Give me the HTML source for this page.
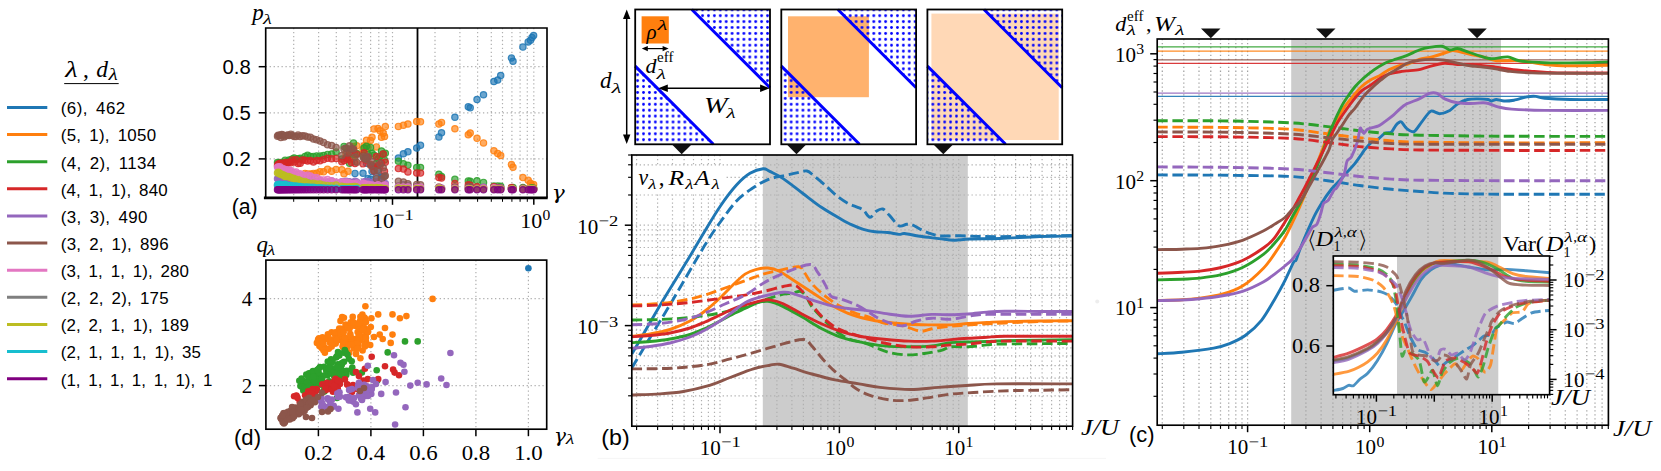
<!DOCTYPE html>
<html><head><meta charset="utf-8"><title>figure</title>
<style>html,body{margin:0;padding:0;background:#fff}svg{display:block}</style></head>
<body>
<svg width="1661" height="471" viewBox="0 0 1661 471">
<text x="65.2" y="76.7" font-family="'Liberation Serif','DejaVu Serif',serif" font-size="23.5" font-style="italic" textLength="12.5" lengthAdjust="spacingAndGlyphs">λ</text>
<text x="83" y="76.7" font-family="'Liberation Serif','DejaVu Serif',serif" font-size="23.5">,</text>
<text x="96.3" y="76.7" font-family="'Liberation Serif','DejaVu Serif',serif" font-size="23.5" font-style="italic">d</text>
<text x="108.5" y="80.3" font-family="'Liberation Serif','DejaVu Serif',serif" font-size="16.5" font-style="italic" textLength="9.3" lengthAdjust="spacingAndGlyphs">λ</text>
<line x1="64.2" y1="83.6" x2="118.7" y2="83.6" stroke="#000" stroke-width="1.0"/>
<line x1="7" y1="107.4" x2="47.3" y2="107.4" stroke="#1f77b4" stroke-width="3.0"/>
<text x="60.8" y="114.2" font-family="'Liberation Sans','DejaVu Sans',sans-serif" font-size="16.9" word-spacing="3" textLength="64.4" lengthAdjust="spacing">(6), 462</text>
<line x1="7" y1="134.5" x2="47.3" y2="134.5" stroke="#ff7f0e" stroke-width="3.0"/>
<text x="60.8" y="141.3" font-family="'Liberation Sans','DejaVu Sans',sans-serif" font-size="16.9" word-spacing="3" textLength="95.3" lengthAdjust="spacing">(5, 1), 1050</text>
<line x1="7" y1="161.7" x2="47.3" y2="161.7" stroke="#2ca02c" stroke-width="3.0"/>
<text x="60.8" y="168.5" font-family="'Liberation Sans','DejaVu Sans',sans-serif" font-size="16.9" word-spacing="3" textLength="95.3" lengthAdjust="spacing">(4, 2), 1134</text>
<line x1="7" y1="188.8" x2="47.3" y2="188.8" stroke="#d62728" stroke-width="3.0"/>
<text x="60.8" y="195.6" font-family="'Liberation Sans','DejaVu Sans',sans-serif" font-size="16.9" word-spacing="3" textLength="106.8" lengthAdjust="spacing">(4, 1, 1), 840</text>
<line x1="7" y1="215.9" x2="47.3" y2="215.9" stroke="#9467bd" stroke-width="3.0"/>
<text x="60.8" y="222.7" font-family="'Liberation Sans','DejaVu Sans',sans-serif" font-size="16.9" word-spacing="3" textLength="86.6" lengthAdjust="spacing">(3, 3), 490</text>
<line x1="7" y1="243.1" x2="47.3" y2="243.1" stroke="#8c564b" stroke-width="3.0"/>
<text x="60.8" y="249.9" font-family="'Liberation Sans','DejaVu Sans',sans-serif" font-size="16.9" word-spacing="3" textLength="107.8" lengthAdjust="spacing">(3, 2, 1), 896</text>
<line x1="7" y1="270.2" x2="47.3" y2="270.2" stroke="#e377c2" stroke-width="3.0"/>
<text x="60.8" y="277" font-family="'Liberation Sans','DejaVu Sans',sans-serif" font-size="16.9" word-spacing="3" textLength="128.2" lengthAdjust="spacing">(3, 1, 1, 1), 280</text>
<line x1="7" y1="297.3" x2="47.3" y2="297.3" stroke="#7f7f7f" stroke-width="3.0"/>
<text x="60.8" y="304.1" font-family="'Liberation Sans','DejaVu Sans',sans-serif" font-size="16.9" word-spacing="3" textLength="107.8" lengthAdjust="spacing">(2, 2, 2), 175</text>
<line x1="7" y1="324.4" x2="47.3" y2="324.4" stroke="#bcbd22" stroke-width="3.0"/>
<text x="60.8" y="331.2" font-family="'Liberation Sans','DejaVu Sans',sans-serif" font-size="16.9" word-spacing="3" textLength="128.2" lengthAdjust="spacing">(2, 2, 1, 1), 189</text>
<line x1="7" y1="351.6" x2="47.3" y2="351.6" stroke="#17becf" stroke-width="3.0"/>
<text x="60.8" y="358.4" font-family="'Liberation Sans','DejaVu Sans',sans-serif" font-size="16.9" word-spacing="3" textLength="140.1" lengthAdjust="spacing">(2, 1, 1, 1, 1), 35</text>
<line x1="7" y1="378.7" x2="47.3" y2="378.7" stroke="#800080" stroke-width="3.0"/>
<text x="60.8" y="385.5" font-family="'Liberation Sans','DejaVu Sans',sans-serif" font-size="16.9" word-spacing="3" textLength="151.5" lengthAdjust="spacing">(1, 1, 1, 1, 1, 1), 1</text>
<rect x="265.7" y="28" width="281.3" height="169.8" fill="#fff" stroke="none" stroke-width="1"/>
<path d="M293.7 28V197.8M318.6 28V197.8M336.3 28V197.8M350 28V197.8M361.2 28V197.8M370.6 28V197.8M378.8 28V197.8M386 28V197.8M392.5 28V197.8M435 28V197.8M459.9 28V197.8M477.6 28V197.8M491.3 28V197.8M502.5 28V197.8M511.9 28V197.8M520.1 28V197.8M527.3 28V197.8M533.8 28V197.8M265.7 158.9H547M265.7 112.8H547M265.7 66.7H547" fill="none" stroke="#b0b0b0" stroke-width="1.2" stroke-dasharray="1.3 2.65"/>
<line x1="417.5" y1="28" x2="417.5" y2="197.8" stroke="#000" stroke-width="1.8"/>
<g fill="#1f77b4" fill-opacity="0.66" stroke="#1f77b4" stroke-opacity="0.85" stroke-width="1.2"><circle cx="353.5" cy="184.5" r="3.15"/><circle cx="355" cy="173.4" r="3.15"/><circle cx="356.7" cy="189.1" r="3.15"/><circle cx="363" cy="173.2" r="3.15"/><circle cx="364.1" cy="184.4" r="3.15"/><circle cx="365.5" cy="183.7" r="3.15"/><circle cx="366.5" cy="163.3" r="3.15"/><circle cx="368" cy="178.6" r="3.15"/><circle cx="370.5" cy="179.2" r="3.15"/><circle cx="372" cy="171.4" r="3.15"/><circle cx="374" cy="166.7" r="3.15"/><circle cx="376.4" cy="176.2" r="3.15"/><circle cx="378" cy="169.7" r="3.15"/><circle cx="380" cy="183.2" r="3.15"/><circle cx="381.5" cy="176.8" r="3.15"/><circle cx="383.2" cy="176.7" r="3.15"/><circle cx="384.5" cy="184.3" r="3.15"/><circle cx="385.3" cy="185.5" r="3.15"/><circle cx="398.4" cy="158.1" r="3.15"/><circle cx="403.4" cy="153.8" r="3.15"/><circle cx="407.9" cy="151.7" r="3.15"/><circle cx="416.7" cy="148" r="3.15"/><circle cx="420.5" cy="145.3" r="3.15"/><circle cx="438.9" cy="136.9" r="3.15"/><circle cx="441.5" cy="132.8" r="3.15"/><circle cx="454.9" cy="117.2" r="3.15"/><circle cx="468.3" cy="106.8" r="3.15"/><circle cx="470.2" cy="107.7" r="3.15"/><circle cx="477" cy="99.5" r="3.15"/><circle cx="483.5" cy="94.8" r="3.15"/><circle cx="493.9" cy="81.5" r="3.15"/><circle cx="497.7" cy="80" r="3.15"/><circle cx="500.7" cy="75.5" r="3.15"/><circle cx="511.4" cy="58.1" r="3.15"/><circle cx="513" cy="61.2" r="3.15"/><circle cx="522.9" cy="47.1" r="3.15"/><circle cx="528.2" cy="41.9" r="3.15"/><circle cx="530.5" cy="40.3" r="3.15"/><circle cx="532" cy="37.5" r="3.15"/><circle cx="533.6" cy="35.6" r="3.15"/></g>
<g fill="#ff7f0e" fill-opacity="0.66" stroke="#ff7f0e" stroke-opacity="0.85" stroke-width="1.2"><circle cx="305" cy="173.4" r="3.15"/><circle cx="307.6" cy="174.1" r="3.15"/><circle cx="310.4" cy="173.9" r="3.15"/><circle cx="313.4" cy="173.4" r="3.15"/><circle cx="316.6" cy="173.2" r="3.15"/><circle cx="320" cy="171.7" r="3.15"/><circle cx="323.6" cy="171.7" r="3.15"/><circle cx="327.5" cy="169.3" r="3.15"/><circle cx="331.6" cy="171.3" r="3.15"/><circle cx="336.1" cy="169.4" r="3.15"/><circle cx="341.8" cy="169.7" r="3.15"/><circle cx="344" cy="173.7" r="3.15"/><circle cx="346" cy="153.7" r="3.15"/><circle cx="348" cy="171.3" r="3.15"/><circle cx="349.5" cy="159.8" r="3.15"/><circle cx="351.5" cy="158.7" r="3.15"/><circle cx="353.5" cy="146.4" r="3.15"/><circle cx="355" cy="161.5" r="3.15"/><circle cx="356.7" cy="145.8" r="3.15"/><circle cx="363" cy="149.2" r="3.15"/><circle cx="364.1" cy="145.7" r="3.15"/><circle cx="365.5" cy="147" r="3.15"/><circle cx="366.5" cy="140.2" r="3.15"/><circle cx="368" cy="147.3" r="3.15"/><circle cx="370.5" cy="140.5" r="3.15"/><circle cx="372" cy="137.3" r="3.15"/><circle cx="374" cy="128.9" r="3.15"/><circle cx="376.4" cy="146.9" r="3.15"/><circle cx="378" cy="128.5" r="3.15"/><circle cx="380" cy="130.8" r="3.15"/><circle cx="381.5" cy="137.2" r="3.15"/><circle cx="383.2" cy="133.2" r="3.15"/><circle cx="384.5" cy="136.6" r="3.15"/><circle cx="385.3" cy="126.6" r="3.15"/><circle cx="398.4" cy="126.4" r="3.15"/><circle cx="403.4" cy="125.3" r="3.15"/><circle cx="407.9" cy="124" r="3.15"/><circle cx="416.7" cy="121.5" r="3.15"/><circle cx="420.5" cy="121.7" r="3.15"/><circle cx="438.9" cy="124.1" r="3.15"/><circle cx="441.5" cy="122.4" r="3.15"/><circle cx="454.9" cy="128.8" r="3.15"/><circle cx="468.3" cy="134.8" r="3.15"/><circle cx="470.2" cy="133" r="3.15"/><circle cx="477" cy="138.3" r="3.15"/><circle cx="483.5" cy="142.9" r="3.15"/><circle cx="493.9" cy="150.8" r="3.15"/><circle cx="497.7" cy="153.5" r="3.15"/><circle cx="500.7" cy="155.5" r="3.15"/><circle cx="511.4" cy="164.6" r="3.15"/><circle cx="513" cy="167.2" r="3.15"/><circle cx="522.9" cy="177.6" r="3.15"/><circle cx="528.2" cy="180.3" r="3.15"/><circle cx="530.5" cy="183.3" r="3.15"/><circle cx="532" cy="185.7" r="3.15"/><circle cx="533.6" cy="184.6" r="3.15"/></g>
<g fill="#2ca02c" fill-opacity="0.66" stroke="#2ca02c" stroke-opacity="0.85" stroke-width="1.2"><circle cx="277.5" cy="162.5" r="3.15"/><circle cx="278.2" cy="164" r="3.15"/><circle cx="279.1" cy="164.5" r="3.15"/><circle cx="279.9" cy="162.5" r="3.15"/><circle cx="280.8" cy="163.7" r="3.15"/><circle cx="281.8" cy="163.7" r="3.15"/><circle cx="282.8" cy="163.8" r="3.15"/><circle cx="284" cy="162.5" r="3.15"/><circle cx="285.1" cy="160.3" r="3.15"/><circle cx="286.4" cy="161.9" r="3.15"/><circle cx="287.8" cy="162.8" r="3.15"/><circle cx="289.2" cy="159.9" r="3.15"/><circle cx="290.8" cy="160.3" r="3.15"/><circle cx="292.4" cy="158.9" r="3.15"/><circle cx="294.2" cy="158.1" r="3.15"/><circle cx="296.1" cy="159.3" r="3.15"/><circle cx="298.1" cy="158.8" r="3.15"/><circle cx="300.2" cy="158.2" r="3.15"/><circle cx="302.5" cy="159.2" r="3.15"/><circle cx="305" cy="156.6" r="3.15"/><circle cx="307.6" cy="155.3" r="3.15"/><circle cx="310.4" cy="156.4" r="3.15"/><circle cx="313.4" cy="156.4" r="3.15"/><circle cx="316.6" cy="155.9" r="3.15"/><circle cx="320" cy="156.1" r="3.15"/><circle cx="323.6" cy="155.5" r="3.15"/><circle cx="327.5" cy="154.4" r="3.15"/><circle cx="331.6" cy="154" r="3.15"/><circle cx="336.1" cy="151.9" r="3.15"/><circle cx="341.8" cy="159" r="3.15"/><circle cx="344" cy="146.4" r="3.15"/><circle cx="346" cy="148.1" r="3.15"/><circle cx="348" cy="155.9" r="3.15"/><circle cx="349.5" cy="163.2" r="3.15"/><circle cx="351.5" cy="149.6" r="3.15"/><circle cx="353.5" cy="143.1" r="3.15"/><circle cx="355" cy="154.7" r="3.15"/><circle cx="356.7" cy="153.5" r="3.15"/><circle cx="363" cy="155.3" r="3.15"/><circle cx="364.1" cy="148" r="3.15"/><circle cx="365.5" cy="157.9" r="3.15"/><circle cx="366.5" cy="146.3" r="3.15"/><circle cx="368" cy="154.5" r="3.15"/><circle cx="370.5" cy="147.4" r="3.15"/><circle cx="372" cy="153.2" r="3.15"/><circle cx="374" cy="155.2" r="3.15"/><circle cx="376.4" cy="163.3" r="3.15"/><circle cx="378" cy="158.7" r="3.15"/><circle cx="380" cy="156.4" r="3.15"/><circle cx="381.5" cy="151" r="3.15"/><circle cx="383.2" cy="153.9" r="3.15"/><circle cx="384.5" cy="159.9" r="3.15"/><circle cx="385.3" cy="153.2" r="3.15"/><circle cx="398.4" cy="161.2" r="3.15"/><circle cx="403.4" cy="163.7" r="3.15"/><circle cx="407.9" cy="165.2" r="3.15"/><circle cx="416.7" cy="167.6" r="3.15"/><circle cx="420.5" cy="167.5" r="3.15"/><circle cx="438.9" cy="174.2" r="3.15"/><circle cx="441.5" cy="176.5" r="3.15"/><circle cx="454.9" cy="179.3" r="3.15"/><circle cx="468.3" cy="180.9" r="3.15"/><circle cx="470.2" cy="181.3" r="3.15"/><circle cx="477" cy="180.7" r="3.15"/><circle cx="483.5" cy="182.4" r="3.15"/><circle cx="493.9" cy="186.1" r="3.15"/><circle cx="497.7" cy="186.1" r="3.15"/><circle cx="500.7" cy="186.2" r="3.15"/><circle cx="511.4" cy="188" r="3.15"/><circle cx="513" cy="187.6" r="3.15"/><circle cx="522.9" cy="187.5" r="3.15"/><circle cx="528.2" cy="189.1" r="3.15"/><circle cx="530.5" cy="188.3" r="3.15"/><circle cx="532" cy="188" r="3.15"/><circle cx="533.6" cy="188.3" r="3.15"/></g>
<g fill="#d62728" fill-opacity="0.66" stroke="#d62728" stroke-opacity="0.85" stroke-width="1.2"><circle cx="277.5" cy="165.5" r="3.15"/><circle cx="278.2" cy="163.9" r="3.15"/><circle cx="279.1" cy="164.8" r="3.15"/><circle cx="279.9" cy="163.4" r="3.15"/><circle cx="280.8" cy="163.3" r="3.15"/><circle cx="281.8" cy="163.5" r="3.15"/><circle cx="282.8" cy="164.2" r="3.15"/><circle cx="284" cy="163.9" r="3.15"/><circle cx="285.1" cy="162.4" r="3.15"/><circle cx="286.4" cy="163.9" r="3.15"/><circle cx="287.8" cy="162.4" r="3.15"/><circle cx="289.2" cy="162.2" r="3.15"/><circle cx="290.8" cy="162.7" r="3.15"/><circle cx="292.4" cy="160.1" r="3.15"/><circle cx="294.2" cy="162" r="3.15"/><circle cx="296.1" cy="159.8" r="3.15"/><circle cx="298.1" cy="163.4" r="3.15"/><circle cx="300.2" cy="163.3" r="3.15"/><circle cx="302.5" cy="160.1" r="3.15"/><circle cx="305" cy="160.3" r="3.15"/><circle cx="307.6" cy="161" r="3.15"/><circle cx="310.4" cy="160.5" r="3.15"/><circle cx="313.4" cy="162" r="3.15"/><circle cx="316.6" cy="160.6" r="3.15"/><circle cx="320" cy="160.7" r="3.15"/><circle cx="323.6" cy="159.6" r="3.15"/><circle cx="327.5" cy="158.3" r="3.15"/><circle cx="331.6" cy="158.8" r="3.15"/><circle cx="336.1" cy="158.4" r="3.15"/><circle cx="341.8" cy="161.7" r="3.15"/><circle cx="344" cy="160.4" r="3.15"/><circle cx="346" cy="157.8" r="3.15"/><circle cx="348" cy="159.6" r="3.15"/><circle cx="349.5" cy="152.4" r="3.15"/><circle cx="351.5" cy="162.4" r="3.15"/><circle cx="353.5" cy="150" r="3.15"/><circle cx="355" cy="163.4" r="3.15"/><circle cx="356.7" cy="154.3" r="3.15"/><circle cx="363" cy="163.7" r="3.15"/><circle cx="364.1" cy="152.7" r="3.15"/><circle cx="365.5" cy="159.9" r="3.15"/><circle cx="366.5" cy="158.8" r="3.15"/><circle cx="368" cy="157.4" r="3.15"/><circle cx="370.5" cy="164.2" r="3.15"/><circle cx="372" cy="166.3" r="3.15"/><circle cx="374" cy="171.1" r="3.15"/><circle cx="376.4" cy="156.5" r="3.15"/><circle cx="378" cy="165.6" r="3.15"/><circle cx="380" cy="165.4" r="3.15"/><circle cx="381.5" cy="163" r="3.15"/><circle cx="383.2" cy="154" r="3.15"/><circle cx="384.5" cy="171.3" r="3.15"/><circle cx="385.3" cy="162.3" r="3.15"/><circle cx="398.4" cy="168.6" r="3.15"/><circle cx="403.4" cy="169.1" r="3.15"/><circle cx="407.9" cy="171.9" r="3.15"/><circle cx="416.7" cy="173" r="3.15"/><circle cx="420.5" cy="173.1" r="3.15"/><circle cx="438.9" cy="177.5" r="3.15"/><circle cx="441.5" cy="178.1" r="3.15"/><circle cx="454.9" cy="183.4" r="3.15"/><circle cx="468.3" cy="184.8" r="3.15"/><circle cx="470.2" cy="185.2" r="3.15"/><circle cx="477" cy="186.7" r="3.15"/><circle cx="483.5" cy="187.4" r="3.15"/><circle cx="493.9" cy="186.7" r="3.15"/><circle cx="497.7" cy="187.5" r="3.15"/><circle cx="500.7" cy="188" r="3.15"/><circle cx="511.4" cy="187.4" r="3.15"/><circle cx="513" cy="189.1" r="3.15"/><circle cx="522.9" cy="188.3" r="3.15"/><circle cx="528.2" cy="188.9" r="3.15"/><circle cx="530.5" cy="189.1" r="3.15"/><circle cx="532" cy="188.7" r="3.15"/><circle cx="533.6" cy="189" r="3.15"/></g>
<g fill="#9467bd" fill-opacity="0.66" stroke="#9467bd" stroke-opacity="0.85" stroke-width="1.2"><circle cx="277.5" cy="178.7" r="3.15"/><circle cx="278.2" cy="178.8" r="3.15"/><circle cx="279.1" cy="177.3" r="3.15"/><circle cx="279.9" cy="179.4" r="3.15"/><circle cx="280.8" cy="178.3" r="3.15"/><circle cx="281.8" cy="178.7" r="3.15"/><circle cx="282.8" cy="179.6" r="3.15"/><circle cx="284" cy="178.7" r="3.15"/><circle cx="285.1" cy="180.3" r="3.15"/><circle cx="286.4" cy="178.5" r="3.15"/><circle cx="287.8" cy="180.4" r="3.15"/><circle cx="289.2" cy="180.2" r="3.15"/><circle cx="290.8" cy="179.6" r="3.15"/><circle cx="292.4" cy="179.2" r="3.15"/><circle cx="294.2" cy="179.2" r="3.15"/><circle cx="296.1" cy="179.4" r="3.15"/><circle cx="298.1" cy="180.5" r="3.15"/><circle cx="300.2" cy="181.4" r="3.15"/><circle cx="302.5" cy="180" r="3.15"/><circle cx="305" cy="180.3" r="3.15"/><circle cx="307.6" cy="181.5" r="3.15"/><circle cx="310.4" cy="179.8" r="3.15"/><circle cx="313.4" cy="180.6" r="3.15"/><circle cx="316.6" cy="181.8" r="3.15"/><circle cx="320" cy="180.6" r="3.15"/><circle cx="323.6" cy="182.3" r="3.15"/><circle cx="327.5" cy="182" r="3.15"/><circle cx="331.6" cy="180.9" r="3.15"/><circle cx="336.1" cy="182.9" r="3.15"/><circle cx="341.8" cy="181.7" r="3.15"/><circle cx="344" cy="183" r="3.15"/><circle cx="346" cy="181.2" r="3.15"/><circle cx="348" cy="182.6" r="3.15"/><circle cx="349.5" cy="181.8" r="3.15"/><circle cx="351.5" cy="183.5" r="3.15"/><circle cx="353.5" cy="182.5" r="3.15"/><circle cx="355" cy="181.3" r="3.15"/><circle cx="356.7" cy="181.9" r="3.15"/><circle cx="363" cy="184.3" r="3.15"/><circle cx="364.1" cy="181.8" r="3.15"/><circle cx="365.5" cy="181.8" r="3.15"/><circle cx="366.5" cy="183.1" r="3.15"/><circle cx="368" cy="181.5" r="3.15"/><circle cx="370.5" cy="183.9" r="3.15"/><circle cx="372" cy="183" r="3.15"/><circle cx="374" cy="182" r="3.15"/><circle cx="376.4" cy="181.9" r="3.15"/><circle cx="378" cy="182" r="3.15"/><circle cx="380" cy="184.3" r="3.15"/><circle cx="381.5" cy="185" r="3.15"/><circle cx="383.2" cy="183.1" r="3.15"/><circle cx="384.5" cy="184.8" r="3.15"/><circle cx="385.3" cy="183.6" r="3.15"/><circle cx="398.4" cy="185.9" r="3.15"/><circle cx="403.4" cy="184.7" r="3.15"/><circle cx="407.9" cy="185.4" r="3.15"/><circle cx="416.7" cy="186.6" r="3.15"/><circle cx="420.5" cy="187.4" r="3.15"/><circle cx="438.9" cy="187.7" r="3.15"/><circle cx="441.5" cy="188" r="3.15"/><circle cx="454.9" cy="187.8" r="3.15"/><circle cx="468.3" cy="188.1" r="3.15"/><circle cx="470.2" cy="188" r="3.15"/><circle cx="477" cy="188.8" r="3.15"/><circle cx="483.5" cy="187.2" r="3.15"/><circle cx="493.9" cy="188.6" r="3.15"/><circle cx="497.7" cy="187.9" r="3.15"/><circle cx="500.7" cy="188" r="3.15"/><circle cx="511.4" cy="189.1" r="3.15"/><circle cx="513" cy="189.1" r="3.15"/><circle cx="522.9" cy="188.4" r="3.15"/><circle cx="528.2" cy="189.1" r="3.15"/><circle cx="530.5" cy="189.1" r="3.15"/><circle cx="532" cy="189.1" r="3.15"/><circle cx="533.6" cy="189.1" r="3.15"/></g>
<g fill="#8c564b" fill-opacity="0.66" stroke="#8c564b" stroke-opacity="0.85" stroke-width="1.2"><circle cx="277.5" cy="136.2" r="3.15"/><circle cx="278.2" cy="135.2" r="3.15"/><circle cx="279.1" cy="135.6" r="3.15"/><circle cx="279.9" cy="135.2" r="3.15"/><circle cx="280.8" cy="137.4" r="3.15"/><circle cx="281.8" cy="134.5" r="3.15"/><circle cx="282.8" cy="135" r="3.15"/><circle cx="284" cy="136.9" r="3.15"/><circle cx="285.1" cy="136.1" r="3.15"/><circle cx="286.4" cy="135.4" r="3.15"/><circle cx="287.8" cy="134.9" r="3.15"/><circle cx="289.2" cy="135.5" r="3.15"/><circle cx="290.8" cy="134.3" r="3.15"/><circle cx="292.4" cy="135.6" r="3.15"/><circle cx="294.2" cy="136.6" r="3.15"/><circle cx="296.1" cy="136.4" r="3.15"/><circle cx="298.1" cy="135.1" r="3.15"/><circle cx="300.2" cy="136.5" r="3.15"/><circle cx="302.5" cy="135.7" r="3.15"/><circle cx="305" cy="136.1" r="3.15"/><circle cx="307.6" cy="137.1" r="3.15"/><circle cx="310.4" cy="137.3" r="3.15"/><circle cx="313.4" cy="139.1" r="3.15"/><circle cx="316.6" cy="139.7" r="3.15"/><circle cx="320" cy="141" r="3.15"/><circle cx="323.6" cy="142.4" r="3.15"/><circle cx="327.5" cy="144.8" r="3.15"/><circle cx="331.6" cy="145.5" r="3.15"/><circle cx="336.1" cy="147.6" r="3.15"/><circle cx="341.8" cy="155.5" r="3.15"/><circle cx="344" cy="149.1" r="3.15"/><circle cx="346" cy="148.5" r="3.15"/><circle cx="348" cy="153" r="3.15"/><circle cx="349.5" cy="145.8" r="3.15"/><circle cx="351.5" cy="148.5" r="3.15"/><circle cx="353.5" cy="148.9" r="3.15"/><circle cx="355" cy="157.1" r="3.15"/><circle cx="356.7" cy="162.3" r="3.15"/><circle cx="363" cy="156.7" r="3.15"/><circle cx="364.1" cy="158.5" r="3.15"/><circle cx="365.5" cy="157.4" r="3.15"/><circle cx="366.5" cy="159.5" r="3.15"/><circle cx="368" cy="156.5" r="3.15"/><circle cx="370.5" cy="165.2" r="3.15"/><circle cx="372" cy="161.8" r="3.15"/><circle cx="374" cy="170.4" r="3.15"/><circle cx="376.4" cy="178.5" r="3.15"/><circle cx="378" cy="171" r="3.15"/><circle cx="380" cy="163.4" r="3.15"/><circle cx="381.5" cy="179" r="3.15"/><circle cx="383.2" cy="167.7" r="3.15"/><circle cx="384.5" cy="176.4" r="3.15"/><circle cx="385.3" cy="175.7" r="3.15"/><circle cx="398.4" cy="181.3" r="3.15"/><circle cx="403.4" cy="182" r="3.15"/><circle cx="407.9" cy="183.7" r="3.15"/><circle cx="416.7" cy="184.4" r="3.15"/><circle cx="420.5" cy="184.8" r="3.15"/><circle cx="438.9" cy="187.1" r="3.15"/><circle cx="441.5" cy="188.4" r="3.15"/><circle cx="454.9" cy="187" r="3.15"/><circle cx="468.3" cy="187" r="3.15"/><circle cx="470.2" cy="186.6" r="3.15"/><circle cx="477" cy="189.1" r="3.15"/><circle cx="483.5" cy="188.5" r="3.15"/><circle cx="493.9" cy="189.1" r="3.15"/><circle cx="497.7" cy="188.6" r="3.15"/><circle cx="500.7" cy="188.6" r="3.15"/><circle cx="511.4" cy="189.1" r="3.15"/><circle cx="513" cy="189.1" r="3.15"/><circle cx="522.9" cy="189.1" r="3.15"/><circle cx="528.2" cy="189" r="3.15"/><circle cx="530.5" cy="189.1" r="3.15"/><circle cx="532" cy="189.1" r="3.15"/><circle cx="533.6" cy="189.1" r="3.15"/></g>
<g fill="#e377c2" fill-opacity="0.66" stroke="#e377c2" stroke-opacity="0.85" stroke-width="1.2"><circle cx="277.5" cy="167.3" r="3.15"/><circle cx="278.2" cy="167" r="3.15"/><circle cx="279.1" cy="167.3" r="3.15"/><circle cx="279.9" cy="166.8" r="3.15"/><circle cx="280.8" cy="168.8" r="3.15"/><circle cx="281.8" cy="169.9" r="3.15"/><circle cx="282.8" cy="168.6" r="3.15"/><circle cx="284" cy="169.7" r="3.15"/><circle cx="285.1" cy="169.6" r="3.15"/><circle cx="286.4" cy="169.7" r="3.15"/><circle cx="287.8" cy="170.2" r="3.15"/><circle cx="289.2" cy="170.1" r="3.15"/><circle cx="290.8" cy="170.6" r="3.15"/><circle cx="292.4" cy="173" r="3.15"/><circle cx="294.2" cy="172.6" r="3.15"/><circle cx="296.1" cy="171.9" r="3.15"/><circle cx="298.1" cy="174" r="3.15"/><circle cx="300.2" cy="173.8" r="3.15"/><circle cx="302.5" cy="174.9" r="3.15"/><circle cx="305" cy="175.7" r="3.15"/><circle cx="307.6" cy="175.1" r="3.15"/><circle cx="310.4" cy="176.1" r="3.15"/><circle cx="313.4" cy="177.6" r="3.15"/><circle cx="316.6" cy="177.6" r="3.15"/><circle cx="320" cy="179.7" r="3.15"/><circle cx="323.6" cy="179.9" r="3.15"/><circle cx="327.5" cy="179.5" r="3.15"/><circle cx="331.6" cy="180.7" r="3.15"/><circle cx="336.1" cy="182.1" r="3.15"/><circle cx="341.8" cy="182" r="3.15"/><circle cx="344" cy="182.4" r="3.15"/><circle cx="346" cy="182.1" r="3.15"/><circle cx="348" cy="182.4" r="3.15"/><circle cx="349.5" cy="183.3" r="3.15"/><circle cx="351.5" cy="183.6" r="3.15"/><circle cx="353.5" cy="183.6" r="3.15"/><circle cx="355" cy="183.8" r="3.15"/><circle cx="356.7" cy="182.9" r="3.15"/><circle cx="363" cy="183.3" r="3.15"/><circle cx="364.1" cy="183.6" r="3.15"/><circle cx="365.5" cy="184.3" r="3.15"/><circle cx="366.5" cy="184.8" r="3.15"/><circle cx="368" cy="184.2" r="3.15"/><circle cx="370.5" cy="185.2" r="3.15"/><circle cx="372" cy="184.9" r="3.15"/><circle cx="374" cy="186.3" r="3.15"/><circle cx="376.4" cy="185.7" r="3.15"/><circle cx="378" cy="184.7" r="3.15"/><circle cx="380" cy="186.4" r="3.15"/><circle cx="381.5" cy="186.8" r="3.15"/><circle cx="383.2" cy="186.1" r="3.15"/><circle cx="384.5" cy="185.1" r="3.15"/><circle cx="385.3" cy="185.3" r="3.15"/><circle cx="398.4" cy="187" r="3.15"/><circle cx="403.4" cy="187.1" r="3.15"/><circle cx="407.9" cy="187" r="3.15"/><circle cx="416.7" cy="187.6" r="3.15"/><circle cx="420.5" cy="187.2" r="3.15"/><circle cx="438.9" cy="187.8" r="3.15"/><circle cx="441.5" cy="188.4" r="3.15"/><circle cx="454.9" cy="188.2" r="3.15"/><circle cx="468.3" cy="188.4" r="3.15"/><circle cx="470.2" cy="188.7" r="3.15"/><circle cx="477" cy="189" r="3.15"/><circle cx="483.5" cy="188.1" r="3.15"/><circle cx="493.9" cy="187.8" r="3.15"/><circle cx="497.7" cy="189" r="3.15"/><circle cx="500.7" cy="189.1" r="3.15"/><circle cx="511.4" cy="188.9" r="3.15"/><circle cx="513" cy="189.1" r="3.15"/><circle cx="522.9" cy="189.1" r="3.15"/><circle cx="528.2" cy="188.8" r="3.15"/><circle cx="530.5" cy="189.1" r="3.15"/><circle cx="532" cy="189.1" r="3.15"/><circle cx="533.6" cy="189.1" r="3.15"/></g>
<g fill="#7f7f7f" fill-opacity="0.66" stroke="#7f7f7f" stroke-opacity="0.85" stroke-width="1.2"><circle cx="277.5" cy="185.4" r="3.15"/><circle cx="278.2" cy="185.3" r="3.15"/><circle cx="279.1" cy="185.1" r="3.15"/><circle cx="279.9" cy="184.9" r="3.15"/><circle cx="280.8" cy="185.2" r="3.15"/><circle cx="281.8" cy="185.5" r="3.15"/><circle cx="282.8" cy="185.9" r="3.15"/><circle cx="284" cy="185.7" r="3.15"/><circle cx="285.1" cy="186" r="3.15"/><circle cx="286.4" cy="185.9" r="3.15"/><circle cx="287.8" cy="185.6" r="3.15"/><circle cx="289.2" cy="186" r="3.15"/><circle cx="290.8" cy="186.3" r="3.15"/><circle cx="292.4" cy="186.6" r="3.15"/><circle cx="294.2" cy="186.5" r="3.15"/><circle cx="296.1" cy="186.6" r="3.15"/><circle cx="298.1" cy="187.1" r="3.15"/><circle cx="300.2" cy="187.1" r="3.15"/><circle cx="302.5" cy="186.8" r="3.15"/><circle cx="305" cy="187.7" r="3.15"/><circle cx="307.6" cy="187.5" r="3.15"/><circle cx="310.4" cy="187.8" r="3.15"/><circle cx="313.4" cy="187.1" r="3.15"/><circle cx="316.6" cy="187.6" r="3.15"/><circle cx="320" cy="187.8" r="3.15"/><circle cx="323.6" cy="188" r="3.15"/><circle cx="327.5" cy="188.3" r="3.15"/><circle cx="331.6" cy="188.4" r="3.15"/><circle cx="336.1" cy="189.1" r="3.15"/><circle cx="341.8" cy="188.7" r="3.15"/><circle cx="344" cy="188.6" r="3.15"/></g>
<g fill="#bcbd22" fill-opacity="0.66" stroke="#bcbd22" stroke-opacity="0.85" stroke-width="1.2"><circle cx="277.5" cy="172.9" r="3.15"/><circle cx="278.2" cy="172.2" r="3.15"/><circle cx="279.1" cy="172.7" r="3.15"/><circle cx="279.9" cy="174.1" r="3.15"/><circle cx="280.8" cy="174.1" r="3.15"/><circle cx="281.8" cy="174.5" r="3.15"/><circle cx="282.8" cy="175.1" r="3.15"/><circle cx="284" cy="175.2" r="3.15"/><circle cx="285.1" cy="176.5" r="3.15"/><circle cx="286.4" cy="176.4" r="3.15"/><circle cx="287.8" cy="176.6" r="3.15"/><circle cx="289.2" cy="176.8" r="3.15"/><circle cx="290.8" cy="177.6" r="3.15"/><circle cx="292.4" cy="178.2" r="3.15"/><circle cx="294.2" cy="178.4" r="3.15"/><circle cx="296.1" cy="180.2" r="3.15"/><circle cx="298.1" cy="179.4" r="3.15"/><circle cx="300.2" cy="180.7" r="3.15"/><circle cx="302.5" cy="181.5" r="3.15"/><circle cx="305" cy="181.6" r="3.15"/><circle cx="307.6" cy="182.8" r="3.15"/><circle cx="310.4" cy="183.4" r="3.15"/><circle cx="313.4" cy="183.2" r="3.15"/><circle cx="316.6" cy="184" r="3.15"/><circle cx="320" cy="184" r="3.15"/><circle cx="323.6" cy="185.1" r="3.15"/><circle cx="327.5" cy="185.6" r="3.15"/><circle cx="331.6" cy="185.8" r="3.15"/><circle cx="336.1" cy="185" r="3.15"/><circle cx="341.8" cy="186.3" r="3.15"/><circle cx="344" cy="186.8" r="3.15"/><circle cx="346" cy="187.1" r="3.15"/><circle cx="348" cy="187.3" r="3.15"/><circle cx="349.5" cy="186.9" r="3.15"/><circle cx="351.5" cy="186.7" r="3.15"/><circle cx="353.5" cy="186.4" r="3.15"/><circle cx="355" cy="186.5" r="3.15"/><circle cx="356.7" cy="187" r="3.15"/><circle cx="363" cy="187.7" r="3.15"/><circle cx="364.1" cy="187.8" r="3.15"/><circle cx="365.5" cy="188.5" r="3.15"/><circle cx="366.5" cy="188" r="3.15"/><circle cx="368" cy="187.4" r="3.15"/><circle cx="370.5" cy="187.8" r="3.15"/><circle cx="372" cy="187.6" r="3.15"/><circle cx="374" cy="188.4" r="3.15"/><circle cx="376.4" cy="187.5" r="3.15"/><circle cx="378" cy="187.8" r="3.15"/><circle cx="380" cy="188" r="3.15"/><circle cx="381.5" cy="187.9" r="3.15"/><circle cx="383.2" cy="189.1" r="3.15"/><circle cx="384.5" cy="188.5" r="3.15"/><circle cx="385.3" cy="188.7" r="3.15"/><circle cx="398.4" cy="187.9" r="3.15"/><circle cx="403.4" cy="188.6" r="3.15"/><circle cx="407.9" cy="188.8" r="3.15"/><circle cx="416.7" cy="188.4" r="3.15"/><circle cx="420.5" cy="189.1" r="3.15"/><circle cx="438.9" cy="188.3" r="3.15"/><circle cx="441.5" cy="189.1" r="3.15"/><circle cx="454.9" cy="189" r="3.15"/><circle cx="468.3" cy="189.1" r="3.15"/><circle cx="470.2" cy="188.8" r="3.15"/><circle cx="477" cy="189.1" r="3.15"/><circle cx="483.5" cy="189" r="3.15"/><circle cx="493.9" cy="189.1" r="3.15"/><circle cx="497.7" cy="189.1" r="3.15"/><circle cx="500.7" cy="189.1" r="3.15"/><circle cx="511.4" cy="189.1" r="3.15"/><circle cx="513" cy="189.1" r="3.15"/><circle cx="522.9" cy="189.1" r="3.15"/><circle cx="528.2" cy="189.1" r="3.15"/><circle cx="530.5" cy="189.1" r="3.15"/><circle cx="532" cy="189.1" r="3.15"/><circle cx="533.6" cy="189.1" r="3.15"/></g>
<g fill="#17becf" fill-opacity="0.66" stroke="#17becf" stroke-opacity="0.85" stroke-width="1.2"><circle cx="277.5" cy="184.7" r="3.15"/><circle cx="278.2" cy="184.8" r="3.15"/><circle cx="279.1" cy="184.3" r="3.15"/><circle cx="279.9" cy="184.7" r="3.15"/><circle cx="280.8" cy="184.4" r="3.15"/><circle cx="281.8" cy="184.8" r="3.15"/><circle cx="282.8" cy="185.2" r="3.15"/><circle cx="284" cy="184.7" r="3.15"/><circle cx="285.1" cy="184.5" r="3.15"/><circle cx="286.4" cy="185.3" r="3.15"/><circle cx="287.8" cy="185.7" r="3.15"/><circle cx="289.2" cy="185.8" r="3.15"/><circle cx="290.8" cy="185.4" r="3.15"/><circle cx="292.4" cy="186" r="3.15"/><circle cx="294.2" cy="186.2" r="3.15"/><circle cx="296.1" cy="186" r="3.15"/><circle cx="298.1" cy="186.4" r="3.15"/><circle cx="300.2" cy="186.6" r="3.15"/><circle cx="302.5" cy="186.9" r="3.15"/><circle cx="305" cy="187.1" r="3.15"/><circle cx="307.6" cy="187" r="3.15"/><circle cx="310.4" cy="187.2" r="3.15"/><circle cx="313.4" cy="187.3" r="3.15"/><circle cx="316.6" cy="187.8" r="3.15"/><circle cx="320" cy="187.7" r="3.15"/><circle cx="323.6" cy="187.9" r="3.15"/><circle cx="327.5" cy="188.3" r="3.15"/><circle cx="331.6" cy="188.3" r="3.15"/><circle cx="336.1" cy="188.3" r="3.15"/><circle cx="341.8" cy="188.7" r="3.15"/><circle cx="344" cy="188.8" r="3.15"/><circle cx="346" cy="189.1" r="3.15"/><circle cx="348" cy="188.8" r="3.15"/><circle cx="349.5" cy="189" r="3.15"/><circle cx="351.5" cy="189.1" r="3.15"/><circle cx="353.5" cy="189.1" r="3.15"/><circle cx="355" cy="188.9" r="3.15"/><circle cx="356.7" cy="188.4" r="3.15"/></g>
<g fill="#800080" fill-opacity="0.66" stroke="#800080" stroke-opacity="0.85" stroke-width="1.2"><circle cx="277.5" cy="189.7" r="3.15"/><circle cx="278.2" cy="189.7" r="3.15"/><circle cx="279.1" cy="189.7" r="3.15"/><circle cx="279.9" cy="189.7" r="3.15"/><circle cx="280.8" cy="189.7" r="3.15"/><circle cx="281.8" cy="189.7" r="3.15"/><circle cx="282.8" cy="189.7" r="3.15"/><circle cx="284" cy="189.7" r="3.15"/><circle cx="285.1" cy="189.7" r="3.15"/><circle cx="286.4" cy="189.7" r="3.15"/><circle cx="287.8" cy="189.7" r="3.15"/><circle cx="289.2" cy="189.7" r="3.15"/><circle cx="290.8" cy="189.7" r="3.15"/><circle cx="292.4" cy="189.7" r="3.15"/><circle cx="294.2" cy="189.7" r="3.15"/><circle cx="296.1" cy="189.7" r="3.15"/><circle cx="298.1" cy="189.7" r="3.15"/><circle cx="300.2" cy="189.7" r="3.15"/><circle cx="302.5" cy="189.7" r="3.15"/><circle cx="305" cy="189.7" r="3.15"/><circle cx="307.6" cy="189.7" r="3.15"/><circle cx="310.4" cy="189.7" r="3.15"/><circle cx="313.4" cy="189.7" r="3.15"/><circle cx="316.6" cy="189.7" r="3.15"/><circle cx="320" cy="189.7" r="3.15"/><circle cx="323.6" cy="189.7" r="3.15"/><circle cx="327.5" cy="189.7" r="3.15"/><circle cx="331.6" cy="189.7" r="3.15"/><circle cx="336.1" cy="189.7" r="3.15"/><circle cx="341.8" cy="189.7" r="3.15"/><circle cx="344" cy="189.7" r="3.15"/><circle cx="346" cy="189.7" r="3.15"/><circle cx="348" cy="189.7" r="3.15"/><circle cx="349.5" cy="189.7" r="3.15"/><circle cx="351.5" cy="189.7" r="3.15"/><circle cx="353.5" cy="189.7" r="3.15"/><circle cx="355" cy="189.7" r="3.15"/><circle cx="356.7" cy="189.7" r="3.15"/><circle cx="363" cy="189.7" r="3.15"/><circle cx="364.1" cy="189.7" r="3.15"/><circle cx="365.5" cy="189.7" r="3.15"/><circle cx="366.5" cy="189.7" r="3.15"/><circle cx="368" cy="189.7" r="3.15"/><circle cx="370.5" cy="189.7" r="3.15"/><circle cx="372" cy="189.7" r="3.15"/><circle cx="374" cy="189.7" r="3.15"/><circle cx="376.4" cy="189.7" r="3.15"/><circle cx="378" cy="189.7" r="3.15"/><circle cx="380" cy="189.7" r="3.15"/><circle cx="381.5" cy="189.7" r="3.15"/><circle cx="383.2" cy="189.7" r="3.15"/><circle cx="384.5" cy="189.7" r="3.15"/><circle cx="385.3" cy="189.7" r="3.15"/><circle cx="398.4" cy="189.7" r="3.15"/><circle cx="403.4" cy="189.7" r="3.15"/><circle cx="407.9" cy="189.7" r="3.15"/><circle cx="416.7" cy="189.7" r="3.15"/><circle cx="420.5" cy="189.7" r="3.15"/><circle cx="438.9" cy="189.7" r="3.15"/><circle cx="441.5" cy="189.7" r="3.15"/><circle cx="454.9" cy="189.7" r="3.15"/><circle cx="468.3" cy="189.7" r="3.15"/><circle cx="470.2" cy="189.7" r="3.15"/><circle cx="477" cy="189.7" r="3.15"/><circle cx="483.5" cy="189.7" r="3.15"/><circle cx="493.9" cy="189.7" r="3.15"/><circle cx="497.7" cy="189.7" r="3.15"/><circle cx="500.7" cy="189.7" r="3.15"/><circle cx="511.4" cy="189.7" r="3.15"/><circle cx="513" cy="189.7" r="3.15"/><circle cx="522.9" cy="189.7" r="3.15"/><circle cx="528.2" cy="189.7" r="3.15"/><circle cx="530.5" cy="189.7" r="3.15"/><circle cx="532" cy="189.7" r="3.15"/><circle cx="533.6" cy="189.7" r="3.15"/></g>
<path d="M265.7 197.8V28H547V197.8" fill="none" stroke="#000" stroke-width="1.65"/>
<line x1="263.9" y1="197.8" x2="547.7" y2="197.8" stroke="#000" stroke-width="2.8"/>
<line x1="258.7" y1="158.9" x2="265.7" y2="158.9" stroke="#000" stroke-width="1.5"/>
<text x="250.8" y="166.1" font-family="'Liberation Sans','DejaVu Sans',sans-serif" font-size="20" text-anchor="end" textLength="28.3" lengthAdjust="spacingAndGlyphs">0.2</text>
<line x1="258.7" y1="112.8" x2="265.7" y2="112.8" stroke="#000" stroke-width="1.5"/>
<text x="250.8" y="120" font-family="'Liberation Sans','DejaVu Sans',sans-serif" font-size="20" text-anchor="end" textLength="28.3" lengthAdjust="spacingAndGlyphs">0.5</text>
<line x1="258.7" y1="66.7" x2="265.7" y2="66.7" stroke="#000" stroke-width="1.5"/>
<text x="250.8" y="73.9" font-family="'Liberation Sans','DejaVu Sans',sans-serif" font-size="20" text-anchor="end" textLength="28.3" lengthAdjust="spacingAndGlyphs">0.8</text>
<line x1="293.7" y1="197.8" x2="293.7" y2="201.8" stroke="#000" stroke-width="1.0"/>
<line x1="318.6" y1="197.8" x2="318.6" y2="201.8" stroke="#000" stroke-width="1.0"/>
<line x1="336.3" y1="197.8" x2="336.3" y2="201.8" stroke="#000" stroke-width="1.0"/>
<line x1="350" y1="197.8" x2="350" y2="201.8" stroke="#000" stroke-width="1.0"/>
<line x1="361.2" y1="197.8" x2="361.2" y2="201.8" stroke="#000" stroke-width="1.0"/>
<line x1="370.6" y1="197.8" x2="370.6" y2="201.8" stroke="#000" stroke-width="1.0"/>
<line x1="378.8" y1="197.8" x2="378.8" y2="201.8" stroke="#000" stroke-width="1.0"/>
<line x1="386" y1="197.8" x2="386" y2="201.8" stroke="#000" stroke-width="1.0"/>
<line x1="435" y1="197.8" x2="435" y2="201.8" stroke="#000" stroke-width="1.0"/>
<line x1="459.9" y1="197.8" x2="459.9" y2="201.8" stroke="#000" stroke-width="1.0"/>
<line x1="477.6" y1="197.8" x2="477.6" y2="201.8" stroke="#000" stroke-width="1.0"/>
<line x1="491.3" y1="197.8" x2="491.3" y2="201.8" stroke="#000" stroke-width="1.0"/>
<line x1="502.5" y1="197.8" x2="502.5" y2="201.8" stroke="#000" stroke-width="1.0"/>
<line x1="511.9" y1="197.8" x2="511.9" y2="201.8" stroke="#000" stroke-width="1.0"/>
<line x1="520.1" y1="197.8" x2="520.1" y2="201.8" stroke="#000" stroke-width="1.0"/>
<line x1="527.3" y1="197.8" x2="527.3" y2="201.8" stroke="#000" stroke-width="1.0"/>
<line x1="392.5" y1="197.8" x2="392.5" y2="204.8" stroke="#000" stroke-width="1.5"/>
<line x1="533.8" y1="197.8" x2="533.8" y2="204.8" stroke="#000" stroke-width="1.5"/>
<text x="371.9" y="227.7" font-family="'Liberation Serif','DejaVu Serif',serif" font-size="22" textLength="22" lengthAdjust="spacingAndGlyphs">10</text><text x="394.2" y="219.8" font-family="'Liberation Serif','DejaVu Serif',serif" font-size="15" textLength="19.5" lengthAdjust="spacingAndGlyphs">−1</text>
<text x="520.3" y="227.7" font-family="'Liberation Serif','DejaVu Serif',serif" font-size="22" textLength="22" lengthAdjust="spacingAndGlyphs">10</text><text x="542.6" y="219.8" font-family="'Liberation Serif','DejaVu Serif',serif" font-size="15" textLength="7.8" lengthAdjust="spacingAndGlyphs">0</text>
<text x="252.3" y="20" font-family="'Liberation Serif','DejaVu Serif',serif" font-size="23" font-style="italic">p</text>
<text x="263" y="24.3" font-family="'Liberation Serif','DejaVu Serif',serif" font-size="14.5" font-style="italic" textLength="8.9" lengthAdjust="spacingAndGlyphs">λ</text>
<text x="231.7" y="214.3" font-family="'Liberation Sans','DejaVu Sans',sans-serif" font-size="22" textLength="26" lengthAdjust="spacingAndGlyphs">(a)</text>
<text x="551.8" y="198.7" font-family="'DejaVu Serif',serif" font-size="19" font-style="italic" textLength="13" lengthAdjust="spacingAndGlyphs">γ</text>
<rect x="265.9" y="260.1" width="280.8" height="169.1" fill="#fff" stroke="none" stroke-width="1"/>
<path d="M318.4 260.1V429.2M370.9 260.1V429.2M423.4 260.1V429.2M475.9 260.1V429.2M528.4 260.1V429.2M265.9 385.6H546.7M265.9 298.7H546.7" fill="none" stroke="#b0b0b0" stroke-width="1.2" stroke-dasharray="1.3 2.65"/>
<g fill="#1f77b4"><circle cx="528.4" cy="268.3" r="3.3"/></g>
<g fill="#ff7f0e"><circle cx="329.8" cy="342.4" r="3.3"/><circle cx="340" cy="335.4" r="3.3"/><circle cx="331.3" cy="342.1" r="3.3"/><circle cx="323.3" cy="345" r="3.3"/><circle cx="335.7" cy="343.6" r="3.3"/><circle cx="319.7" cy="343.1" r="3.3"/><circle cx="323.4" cy="350.3" r="3.3"/><circle cx="331.6" cy="332.2" r="3.3"/><circle cx="345" cy="341.8" r="3.3"/><circle cx="334.9" cy="340.8" r="3.3"/><circle cx="319" cy="338.2" r="3.3"/><circle cx="327.9" cy="334.4" r="3.3"/><circle cx="321.5" cy="341.1" r="3.3"/><circle cx="319.4" cy="346.1" r="3.3"/><circle cx="331.7" cy="346.6" r="3.3"/><circle cx="332" cy="342.8" r="3.3"/><circle cx="331.7" cy="343.3" r="3.3"/><circle cx="327.9" cy="338.4" r="3.3"/><circle cx="345.6" cy="342.1" r="3.3"/><circle cx="339.9" cy="339.9" r="3.3"/><circle cx="324.3" cy="339.4" r="3.3"/><circle cx="322.5" cy="337.4" r="3.3"/><circle cx="335.9" cy="336.4" r="3.3"/><circle cx="337.6" cy="335.2" r="3.3"/><circle cx="343.6" cy="340.4" r="3.3"/><circle cx="316.9" cy="342.9" r="3.3"/><circle cx="339.7" cy="335.7" r="3.3"/><circle cx="340.8" cy="333.8" r="3.3"/><circle cx="321.6" cy="348" r="3.3"/><circle cx="335.2" cy="334.4" r="3.3"/><circle cx="319.8" cy="343.6" r="3.3"/><circle cx="343.1" cy="339.1" r="3.3"/><circle cx="319.8" cy="342" r="3.3"/><circle cx="318.1" cy="339.5" r="3.3"/><circle cx="334.9" cy="332.9" r="3.3"/><circle cx="331.5" cy="339.5" r="3.3"/><circle cx="325.1" cy="348" r="3.3"/><circle cx="323.1" cy="347.5" r="3.3"/><circle cx="321.1" cy="344.5" r="3.3"/><circle cx="322.2" cy="341.2" r="3.3"/><circle cx="343.6" cy="339.7" r="3.3"/><circle cx="328.8" cy="348.8" r="3.3"/><circle cx="323.1" cy="343" r="3.3"/><circle cx="339.7" cy="338.8" r="3.3"/><circle cx="324.9" cy="352.7" r="3.3"/><circle cx="342.2" cy="334.6" r="3.3"/><circle cx="360.2" cy="320.8" r="3.3"/><circle cx="341.5" cy="328.8" r="3.3"/><circle cx="344.1" cy="344.2" r="3.3"/><circle cx="349.1" cy="340.4" r="3.3"/><circle cx="350.3" cy="334.1" r="3.3"/><circle cx="363.6" cy="336.6" r="3.3"/><circle cx="339.5" cy="333.4" r="3.3"/><circle cx="342.1" cy="332.3" r="3.3"/><circle cx="353.7" cy="348.4" r="3.3"/><circle cx="345.8" cy="326" r="3.3"/><circle cx="349.2" cy="352.9" r="3.3"/><circle cx="350.7" cy="342.5" r="3.3"/><circle cx="353.3" cy="344.3" r="3.3"/><circle cx="354.3" cy="324.9" r="3.3"/><circle cx="349.1" cy="344.5" r="3.3"/><circle cx="337.3" cy="337.9" r="3.3"/><circle cx="362.9" cy="336.7" r="3.3"/><circle cx="354.6" cy="324.2" r="3.3"/><circle cx="362.4" cy="314.5" r="3.3"/><circle cx="336.5" cy="340.1" r="3.3"/><circle cx="345.7" cy="324.5" r="3.3"/><circle cx="343" cy="337.7" r="3.3"/><circle cx="350.8" cy="322.4" r="3.3"/><circle cx="357.7" cy="342.8" r="3.3"/><circle cx="362.2" cy="328" r="3.3"/><circle cx="336.1" cy="332.2" r="3.3"/><circle cx="347.7" cy="352.4" r="3.3"/><circle cx="343" cy="347.1" r="3.3"/><circle cx="358.5" cy="336.4" r="3.3"/><circle cx="358.3" cy="346" r="3.3"/><circle cx="343.1" cy="343.9" r="3.3"/><circle cx="365.7" cy="329" r="3.3"/><circle cx="353.8" cy="339.1" r="3.3"/><circle cx="357.6" cy="339.4" r="3.3"/><circle cx="356.7" cy="325.9" r="3.3"/><circle cx="359.4" cy="331.4" r="3.3"/><circle cx="344.8" cy="345.5" r="3.3"/><circle cx="359.9" cy="323.2" r="3.3"/><circle cx="363.5" cy="326.7" r="3.3"/><circle cx="359.1" cy="339.6" r="3.3"/><circle cx="346.9" cy="347.6" r="3.3"/><circle cx="342.7" cy="346.2" r="3.3"/><circle cx="349.7" cy="326.8" r="3.3"/><circle cx="360.9" cy="326.1" r="3.3"/><circle cx="365.7" cy="336.5" r="3.3"/><circle cx="339.2" cy="328.6" r="3.3"/><circle cx="352.1" cy="340.3" r="3.3"/><circle cx="340.3" cy="333.1" r="3.3"/><circle cx="360.1" cy="340.6" r="3.3"/><circle cx="352.7" cy="339.4" r="3.3"/><circle cx="344.8" cy="338.3" r="3.3"/><circle cx="364.4" cy="319" r="3.3"/><circle cx="354.3" cy="325.7" r="3.3"/><circle cx="344" cy="341.3" r="3.3"/><circle cx="342.5" cy="331.1" r="3.3"/><circle cx="349.6" cy="328.5" r="3.3"/><circle cx="344.9" cy="337.6" r="3.3"/><circle cx="358.7" cy="328" r="3.3"/><circle cx="355.4" cy="343" r="3.3"/><circle cx="367.5" cy="332.3" r="3.3"/><circle cx="342.1" cy="317.1" r="3.3"/><circle cx="364.4" cy="317.5" r="3.3"/><circle cx="359.8" cy="336.5" r="3.3"/><circle cx="348.7" cy="344.5" r="3.3"/><circle cx="340.5" cy="320.9" r="3.3"/><circle cx="352.7" cy="316.9" r="3.3"/><circle cx="363.2" cy="324.5" r="3.3"/><circle cx="343.9" cy="317.7" r="3.3"/><circle cx="357.6" cy="332.1" r="3.3"/><circle cx="357.6" cy="339.6" r="3.3"/><circle cx="362.6" cy="350.5" r="3.3"/><circle cx="359.2" cy="323.2" r="3.3"/><circle cx="353.3" cy="322.4" r="3.3"/><circle cx="340.3" cy="333" r="3.3"/><circle cx="360" cy="322.4" r="3.3"/><circle cx="347.6" cy="328.4" r="3.3"/><circle cx="359.5" cy="334.7" r="3.3"/><circle cx="357.2" cy="343.2" r="3.3"/><circle cx="351" cy="344.5" r="3.3"/><circle cx="365.4" cy="319.1" r="3.3"/><circle cx="366.1" cy="342" r="3.3"/><circle cx="343.6" cy="332.3" r="3.3"/><circle cx="357.5" cy="348.8" r="3.3"/><circle cx="350.6" cy="336.5" r="3.3"/><circle cx="364.6" cy="344.7" r="3.3"/><circle cx="366.4" cy="332.7" r="3.3"/><circle cx="358.2" cy="323.4" r="3.3"/><circle cx="432.6" cy="298.9" r="3.3"/><circle cx="365.4" cy="306.3" r="3.3"/><circle cx="378.2" cy="314.4" r="3.3"/><circle cx="392.5" cy="314.4" r="3.3"/><circle cx="399.9" cy="318.2" r="3.3"/><circle cx="406.4" cy="316.1" r="3.3"/><circle cx="371.4" cy="318.2" r="3.3"/><circle cx="360.4" cy="316.7" r="3.3"/><circle cx="385" cy="328" r="3.3"/><circle cx="379.7" cy="334.6" r="3.3"/><circle cx="392.5" cy="334.6" r="3.3"/><circle cx="382.7" cy="339" r="3.3"/><circle cx="390.7" cy="342.9" r="3.3"/><circle cx="370.8" cy="327.1" r="3.3"/><circle cx="370.2" cy="345" r="3.3"/><circle cx="364.9" cy="346.4" r="3.3"/><circle cx="360.4" cy="358.3" r="3.3"/><circle cx="356" cy="353.9" r="3.3"/><circle cx="366" cy="322" r="3.3"/><circle cx="368" cy="332" r="3.3"/><circle cx="374" cy="337" r="3.3"/><circle cx="363" cy="330" r="3.3"/><circle cx="366" cy="338" r="3.3"/></g>
<g fill="#2ca02c"><circle cx="318.3" cy="384.4" r="3.3"/><circle cx="315.6" cy="383.8" r="3.3"/><circle cx="307.2" cy="391.8" r="3.3"/><circle cx="325.5" cy="383.9" r="3.3"/><circle cx="313.8" cy="386.2" r="3.3"/><circle cx="309.8" cy="390.7" r="3.3"/><circle cx="317.4" cy="375.3" r="3.3"/><circle cx="300.4" cy="386.1" r="3.3"/><circle cx="313.9" cy="385.7" r="3.3"/><circle cx="306.3" cy="374.6" r="3.3"/><circle cx="314" cy="371.3" r="3.3"/><circle cx="314.7" cy="373.2" r="3.3"/><circle cx="309.1" cy="388.6" r="3.3"/><circle cx="299.3" cy="380.7" r="3.3"/><circle cx="312.7" cy="385.4" r="3.3"/><circle cx="319.9" cy="380.9" r="3.3"/><circle cx="320.7" cy="376.5" r="3.3"/><circle cx="317.4" cy="370" r="3.3"/><circle cx="304.3" cy="385.8" r="3.3"/><circle cx="307.6" cy="388.2" r="3.3"/><circle cx="313.9" cy="380.7" r="3.3"/><circle cx="318.9" cy="378.8" r="3.3"/><circle cx="305.2" cy="382.4" r="3.3"/><circle cx="321.8" cy="384.2" r="3.3"/><circle cx="306.7" cy="391.1" r="3.3"/><circle cx="321.5" cy="376.8" r="3.3"/><circle cx="309.7" cy="376.4" r="3.3"/><circle cx="311.4" cy="381.6" r="3.3"/><circle cx="309" cy="373.2" r="3.3"/><circle cx="321.4" cy="376.6" r="3.3"/><circle cx="310.7" cy="388" r="3.3"/><circle cx="311.9" cy="381.1" r="3.3"/><circle cx="311.3" cy="372.8" r="3.3"/><circle cx="310.7" cy="380.2" r="3.3"/><circle cx="324.5" cy="383.3" r="3.3"/><circle cx="305" cy="384.3" r="3.3"/><circle cx="301.4" cy="385.4" r="3.3"/><circle cx="321.1" cy="384.6" r="3.3"/><circle cx="308.4" cy="379.4" r="3.3"/><circle cx="304.4" cy="387.6" r="3.3"/><circle cx="317.2" cy="371" r="3.3"/><circle cx="313" cy="371" r="3.3"/><circle cx="301.2" cy="381.3" r="3.3"/><circle cx="313.3" cy="376.9" r="3.3"/><circle cx="308.2" cy="385.6" r="3.3"/><circle cx="303.3" cy="390.4" r="3.3"/><circle cx="301.9" cy="386.7" r="3.3"/><circle cx="302.2" cy="380.2" r="3.3"/><circle cx="310.7" cy="380.6" r="3.3"/><circle cx="306.9" cy="382.1" r="3.3"/><circle cx="308.3" cy="376.2" r="3.3"/><circle cx="304.8" cy="387.6" r="3.3"/><circle cx="313.9" cy="380.8" r="3.3"/><circle cx="319.5" cy="379.6" r="3.3"/><circle cx="316.5" cy="373.5" r="3.3"/><circle cx="318.6" cy="384.1" r="3.3"/><circle cx="318.2" cy="374.2" r="3.3"/><circle cx="309.8" cy="391" r="3.3"/><circle cx="308.2" cy="393.3" r="3.3"/><circle cx="316.4" cy="371.5" r="3.3"/><circle cx="306.4" cy="388.7" r="3.3"/><circle cx="301.6" cy="378.5" r="3.3"/><circle cx="317.5" cy="376.8" r="3.3"/><circle cx="314.1" cy="372.6" r="3.3"/><circle cx="309.8" cy="386.1" r="3.3"/><circle cx="312.5" cy="377.7" r="3.3"/><circle cx="346.2" cy="375" r="3.3"/><circle cx="345.6" cy="352.2" r="3.3"/><circle cx="337.7" cy="376.4" r="3.3"/><circle cx="336.6" cy="375.1" r="3.3"/><circle cx="316.9" cy="370.8" r="3.3"/><circle cx="313.5" cy="372.2" r="3.3"/><circle cx="336.1" cy="370.5" r="3.3"/><circle cx="331.6" cy="362.8" r="3.3"/><circle cx="318.6" cy="373.5" r="3.3"/><circle cx="353" cy="372.7" r="3.3"/><circle cx="343.8" cy="352.8" r="3.3"/><circle cx="324.4" cy="391.4" r="3.3"/><circle cx="336.3" cy="377.7" r="3.3"/><circle cx="327.3" cy="375.2" r="3.3"/><circle cx="333.6" cy="369.7" r="3.3"/><circle cx="331" cy="359.4" r="3.3"/><circle cx="345.9" cy="373.3" r="3.3"/><circle cx="321.9" cy="378.6" r="3.3"/><circle cx="341.3" cy="363.6" r="3.3"/><circle cx="318.4" cy="372.5" r="3.3"/><circle cx="327.8" cy="361.6" r="3.3"/><circle cx="352.3" cy="367.6" r="3.3"/><circle cx="346.3" cy="373.5" r="3.3"/><circle cx="337.4" cy="366.4" r="3.3"/><circle cx="337.6" cy="369.1" r="3.3"/><circle cx="330.9" cy="385.7" r="3.3"/><circle cx="346.6" cy="370.9" r="3.3"/><circle cx="344" cy="361.8" r="3.3"/><circle cx="344.7" cy="371.9" r="3.3"/><circle cx="342.3" cy="363" r="3.3"/><circle cx="336.1" cy="357.5" r="3.3"/><circle cx="327.9" cy="374.8" r="3.3"/><circle cx="314.4" cy="380.9" r="3.3"/><circle cx="340.7" cy="370.5" r="3.3"/><circle cx="330.4" cy="387" r="3.3"/><circle cx="337.8" cy="364.2" r="3.3"/><circle cx="340.7" cy="368.9" r="3.3"/><circle cx="333.7" cy="368.5" r="3.3"/><circle cx="344.8" cy="371.6" r="3.3"/><circle cx="344.8" cy="350.1" r="3.3"/><circle cx="341.4" cy="373.3" r="3.3"/><circle cx="323.9" cy="375.6" r="3.3"/><circle cx="313.6" cy="376.7" r="3.3"/><circle cx="324" cy="366.7" r="3.3"/><circle cx="330.6" cy="385.7" r="3.3"/><circle cx="335.9" cy="370.4" r="3.3"/><circle cx="351.7" cy="361.2" r="3.3"/><circle cx="339.3" cy="355.4" r="3.3"/><circle cx="341.1" cy="374.2" r="3.3"/><circle cx="323.5" cy="391.4" r="3.3"/><circle cx="321.4" cy="379.4" r="3.3"/><circle cx="322" cy="379.7" r="3.3"/><circle cx="332" cy="360" r="3.3"/><circle cx="348.9" cy="358.8" r="3.3"/><circle cx="336.3" cy="372.8" r="3.3"/><circle cx="326.2" cy="370.6" r="3.3"/><circle cx="340.4" cy="368.8" r="3.3"/><circle cx="329.2" cy="381.2" r="3.3"/><circle cx="320" cy="367" r="3.3"/><circle cx="318.6" cy="368.9" r="3.3"/><circle cx="325.1" cy="385.1" r="3.3"/><circle cx="335.5" cy="382.1" r="3.3"/><circle cx="336.8" cy="356.4" r="3.3"/><circle cx="324.2" cy="390.2" r="3.3"/><circle cx="331.2" cy="372.8" r="3.3"/><circle cx="347.5" cy="354.6" r="3.3"/><circle cx="340.8" cy="379.5" r="3.3"/><circle cx="341.6" cy="365.3" r="3.3"/><circle cx="332.5" cy="361.3" r="3.3"/><circle cx="337.9" cy="367.5" r="3.3"/><circle cx="317.2" cy="370.1" r="3.3"/><circle cx="329.9" cy="363.4" r="3.3"/><circle cx="334.2" cy="376.2" r="3.3"/><circle cx="329.1" cy="367.9" r="3.3"/><circle cx="405" cy="341.4" r="3.3"/><circle cx="417.7" cy="341.4" r="3.3"/><circle cx="387.7" cy="352.4" r="3.3"/><circle cx="376.7" cy="370.2" r="3.3"/><circle cx="377.3" cy="380.6" r="3.3"/><circle cx="361.9" cy="372.6" r="3.3"/><circle cx="351.5" cy="369.6" r="3.3"/><circle cx="337" cy="398" r="3.3"/><circle cx="333" cy="387" r="3.3"/><circle cx="338" cy="352" r="3.3"/></g>
<g fill="#d62728"><circle cx="326.2" cy="387.1" r="3.3"/><circle cx="337.7" cy="383.7" r="3.3"/><circle cx="333.9" cy="381.5" r="3.3"/><circle cx="302.2" cy="403.6" r="3.3"/><circle cx="338.5" cy="384.6" r="3.3"/><circle cx="313" cy="390.9" r="3.3"/><circle cx="332.7" cy="386.3" r="3.3"/><circle cx="327.8" cy="389.3" r="3.3"/><circle cx="334.7" cy="380.5" r="3.3"/><circle cx="310.2" cy="401.3" r="3.3"/><circle cx="347.1" cy="384.2" r="3.3"/><circle cx="294.1" cy="396.2" r="3.3"/><circle cx="308.8" cy="394.7" r="3.3"/><circle cx="327" cy="382.7" r="3.3"/><circle cx="322.3" cy="384.3" r="3.3"/><circle cx="299.7" cy="401.9" r="3.3"/><circle cx="325.5" cy="390.2" r="3.3"/><circle cx="314.8" cy="392.8" r="3.3"/><circle cx="305.1" cy="395.2" r="3.3"/><circle cx="337.3" cy="387.9" r="3.3"/><circle cx="296.4" cy="396" r="3.3"/><circle cx="339.9" cy="383.9" r="3.3"/><circle cx="335.7" cy="380.4" r="3.3"/><circle cx="316.6" cy="389.1" r="3.3"/><circle cx="338.7" cy="381.1" r="3.3"/><circle cx="332.9" cy="391.7" r="3.3"/><circle cx="312.5" cy="394.7" r="3.3"/><circle cx="337.8" cy="388.7" r="3.3"/><circle cx="317.3" cy="390.3" r="3.3"/><circle cx="301.2" cy="403.8" r="3.3"/><circle cx="296.4" cy="395.5" r="3.3"/><circle cx="325.5" cy="388.3" r="3.3"/><circle cx="331.4" cy="383.3" r="3.3"/><circle cx="335.4" cy="378.7" r="3.3"/><circle cx="306.7" cy="398.7" r="3.3"/><circle cx="297.6" cy="397.9" r="3.3"/><circle cx="335.5" cy="386.7" r="3.3"/><circle cx="308.2" cy="391.3" r="3.3"/><circle cx="315.1" cy="395.9" r="3.3"/><circle cx="312.7" cy="389" r="3.3"/><circle cx="334" cy="385.7" r="3.3"/><circle cx="347.5" cy="384.8" r="3.3"/><circle cx="344.9" cy="379.4" r="3.3"/><circle cx="338" cy="380.6" r="3.3"/><circle cx="311.3" cy="393.3" r="3.3"/><circle cx="371.7" cy="356.8" r="3.3"/><circle cx="385" cy="366.3" r="3.3"/><circle cx="393.1" cy="369.6" r="3.3"/><circle cx="394.6" cy="372.6" r="3.3"/><circle cx="399" cy="375.2" r="3.3"/><circle cx="364.9" cy="368.7" r="3.3"/><circle cx="358.9" cy="376.1" r="3.3"/><circle cx="367.8" cy="379.1" r="3.3"/><circle cx="378.2" cy="379.1" r="3.3"/><circle cx="353" cy="385" r="3.3"/><circle cx="363.4" cy="380.6" r="3.3"/><circle cx="356" cy="372" r="3.3"/><circle cx="360" cy="383" r="3.3"/><circle cx="352" cy="392" r="3.3"/><circle cx="357" cy="389" r="3.3"/></g>
<g fill="#9467bd"><circle cx="371.3" cy="394" r="3.3"/><circle cx="332" cy="399.5" r="3.3"/><circle cx="338.1" cy="397" r="3.3"/><circle cx="339.8" cy="396.8" r="3.3"/><circle cx="330.6" cy="404" r="3.3"/><circle cx="361.7" cy="390.9" r="3.3"/><circle cx="363.9" cy="390.5" r="3.3"/><circle cx="330.9" cy="407.6" r="3.3"/><circle cx="364.3" cy="384.9" r="3.3"/><circle cx="321.3" cy="406.8" r="3.3"/><circle cx="348.8" cy="396.7" r="3.3"/><circle cx="371.3" cy="389.2" r="3.3"/><circle cx="358.9" cy="382.8" r="3.3"/><circle cx="350.4" cy="400.3" r="3.3"/><circle cx="321.6" cy="398.3" r="3.3"/><circle cx="361" cy="398.2" r="3.3"/><circle cx="325.3" cy="407.5" r="3.3"/><circle cx="329.1" cy="408.1" r="3.3"/><circle cx="352" cy="389.1" r="3.3"/><circle cx="333.3" cy="406.8" r="3.3"/><circle cx="348.9" cy="400.5" r="3.3"/><circle cx="339.4" cy="396" r="3.3"/><circle cx="371.5" cy="389.5" r="3.3"/><circle cx="345.9" cy="397.3" r="3.3"/><circle cx="358.9" cy="395.3" r="3.3"/><circle cx="367" cy="386.3" r="3.3"/><circle cx="364.1" cy="392.4" r="3.3"/><circle cx="366.4" cy="394.2" r="3.3"/><circle cx="366" cy="396" r="3.3"/><circle cx="370.8" cy="389.2" r="3.3"/><circle cx="348.7" cy="399.5" r="3.3"/><circle cx="361.2" cy="388.8" r="3.3"/><circle cx="339.5" cy="392.3" r="3.3"/><circle cx="361.9" cy="399.6" r="3.3"/><circle cx="337.3" cy="393.6" r="3.3"/><circle cx="330.1" cy="401.5" r="3.3"/><circle cx="338.4" cy="408.7" r="3.3"/><circle cx="321.8" cy="402.6" r="3.3"/><circle cx="327" cy="407.1" r="3.3"/><circle cx="358.2" cy="385.4" r="3.3"/><circle cx="323" cy="405" r="3.3"/><circle cx="353.1" cy="401.6" r="3.3"/><circle cx="319.3" cy="399.7" r="3.3"/><circle cx="327.7" cy="398.4" r="3.3"/><circle cx="333.7" cy="405.7" r="3.3"/><circle cx="349.1" cy="389.9" r="3.3"/><circle cx="328.1" cy="399.5" r="3.3"/><circle cx="330.7" cy="407.7" r="3.3"/><circle cx="450.4" cy="353" r="3.3"/><circle cx="394" cy="355.3" r="3.3"/><circle cx="400.5" cy="362.8" r="3.3"/><circle cx="403.5" cy="364.8" r="3.3"/><circle cx="404.4" cy="371.7" r="3.3"/><circle cx="441.2" cy="378.5" r="3.3"/><circle cx="446.5" cy="385" r="3.3"/><circle cx="426.6" cy="384.4" r="3.3"/><circle cx="417.7" cy="382.7" r="3.3"/><circle cx="410.3" cy="385.6" r="3.3"/><circle cx="385.6" cy="382.1" r="3.3"/><circle cx="396" cy="392.5" r="3.3"/><circle cx="381.2" cy="393.9" r="3.3"/><circle cx="405.5" cy="407.3" r="3.3"/><circle cx="395.1" cy="424.5" r="3.3"/><circle cx="375.2" cy="412.4" r="3.3"/><circle cx="370.2" cy="408.8" r="3.3"/><circle cx="357.4" cy="412.4" r="3.3"/><circle cx="355.9" cy="404.3" r="3.3"/><circle cx="360.4" cy="395.4" r="3.3"/><circle cx="366.3" cy="391" r="3.3"/><circle cx="367.8" cy="365.7" r="3.3"/><circle cx="363.4" cy="385" r="3.3"/><circle cx="372" cy="387" r="3.3"/><circle cx="376" cy="384" r="3.3"/><circle cx="358" cy="388" r="3.3"/><circle cx="362" cy="400" r="3.3"/><circle cx="368" cy="396" r="3.3"/><circle cx="354" cy="398" r="3.3"/><circle cx="373" cy="380" r="3.3"/></g>
<g fill="#8c564b"><circle cx="291.5" cy="413.7" r="3.3"/><circle cx="307.9" cy="403" r="3.3"/><circle cx="291.6" cy="417.6" r="3.3"/><circle cx="310.4" cy="399.9" r="3.3"/><circle cx="301.4" cy="412.5" r="3.3"/><circle cx="295.5" cy="407.5" r="3.3"/><circle cx="285" cy="422.3" r="3.3"/><circle cx="306.9" cy="402.5" r="3.3"/><circle cx="298.5" cy="409.1" r="3.3"/><circle cx="292.6" cy="418.2" r="3.3"/><circle cx="301.3" cy="404.1" r="3.3"/><circle cx="281.2" cy="419" r="3.3"/><circle cx="294.8" cy="414.6" r="3.3"/><circle cx="305.1" cy="406.1" r="3.3"/><circle cx="284.4" cy="413.4" r="3.3"/><circle cx="290.4" cy="411" r="3.3"/><circle cx="309.8" cy="402.3" r="3.3"/><circle cx="304.6" cy="411" r="3.3"/><circle cx="290" cy="414.5" r="3.3"/><circle cx="287.4" cy="418.8" r="3.3"/><circle cx="282.7" cy="422.2" r="3.3"/><circle cx="310.6" cy="405.3" r="3.3"/><circle cx="282.5" cy="415.9" r="3.3"/><circle cx="302.6" cy="401.7" r="3.3"/><circle cx="296.7" cy="409.6" r="3.3"/><circle cx="313" cy="401.1" r="3.3"/><circle cx="308.3" cy="400.7" r="3.3"/><circle cx="306.6" cy="403" r="3.3"/><circle cx="309.1" cy="397.7" r="3.3"/><circle cx="306.8" cy="400.5" r="3.3"/><circle cx="299.1" cy="408.9" r="3.3"/><circle cx="287.9" cy="419.2" r="3.3"/><circle cx="290.3" cy="411.7" r="3.3"/><circle cx="282.5" cy="416.3" r="3.3"/><circle cx="297.5" cy="412" r="3.3"/><circle cx="293.8" cy="413.9" r="3.3"/><circle cx="283.9" cy="416.5" r="3.3"/><circle cx="298.7" cy="414.3" r="3.3"/><circle cx="309.2" cy="404.2" r="3.3"/><circle cx="280.8" cy="418.2" r="3.3"/><circle cx="303.1" cy="403.1" r="3.3"/><circle cx="299.4" cy="407.9" r="3.3"/><circle cx="283.9" cy="423.5" r="3.3"/><circle cx="305.9" cy="401" r="3.3"/><circle cx="300.2" cy="405.4" r="3.3"/><circle cx="293.6" cy="412.3" r="3.3"/><circle cx="290" cy="412.1" r="3.3"/><circle cx="294.8" cy="413.1" r="3.3"/><circle cx="287.9" cy="411.8" r="3.3"/><circle cx="304.3" cy="403.4" r="3.3"/><circle cx="312.5" cy="401.1" r="3.3"/><circle cx="304" cy="403.6" r="3.3"/><circle cx="306.2" cy="399.5" r="3.3"/><circle cx="283.5" cy="413.2" r="3.3"/><circle cx="304.4" cy="407.7" r="3.3"/><circle cx="286.4" cy="415.1" r="3.3"/><circle cx="309.1" cy="403.6" r="3.3"/><circle cx="282.6" cy="415.4" r="3.3"/><circle cx="284.2" cy="413.1" r="3.3"/><circle cx="292.2" cy="407.7" r="3.3"/><circle cx="311" cy="400.5" r="3.3"/><circle cx="298.6" cy="410.5" r="3.3"/><circle cx="308" cy="406.9" r="3.3"/><circle cx="292.9" cy="410.3" r="3.3"/><circle cx="292.1" cy="407.1" r="3.3"/><circle cx="295.3" cy="413.2" r="3.3"/><circle cx="314.9" cy="402.3" r="3.3"/><circle cx="303.4" cy="407.2" r="3.3"/><circle cx="280.7" cy="417.7" r="3.3"/><circle cx="293.1" cy="413.9" r="3.3"/><circle cx="283.9" cy="416.3" r="3.3"/><circle cx="299.3" cy="411.8" r="3.3"/><circle cx="308.8" cy="403.9" r="3.3"/><circle cx="287.6" cy="418.6" r="3.3"/><circle cx="311" cy="401.9" r="3.3"/><circle cx="292.6" cy="412.5" r="3.3"/><circle cx="286.8" cy="418.5" r="3.3"/><circle cx="313.6" cy="399.9" r="3.3"/><circle cx="306.3" cy="408.1" r="3.3"/><circle cx="289.8" cy="419.4" r="3.3"/><circle cx="300.1" cy="404.4" r="3.3"/><circle cx="282.4" cy="415.7" r="3.3"/><circle cx="301" cy="409.7" r="3.3"/><circle cx="294.1" cy="416.6" r="3.3"/><circle cx="292.7" cy="412" r="3.3"/><circle cx="322" cy="412" r="3.3"/><circle cx="328" cy="411.5" r="3.3"/><circle cx="330.5" cy="409" r="3.3"/><circle cx="312" cy="418" r="3.3"/><circle cx="306" cy="417" r="3.3"/><circle cx="318" cy="397" r="3.3"/><circle cx="322" cy="393" r="3.3"/><circle cx="360" cy="391" r="3.3"/><circle cx="364" cy="388" r="3.3"/></g>
<rect x="265.9" y="260.1" width="280.8" height="169.1" fill="none" stroke="#000" stroke-width="1.65"/>
<line x1="258.9" y1="385.6" x2="265.9" y2="385.6" stroke="#000" stroke-width="1.5"/>
<text x="252.3" y="393" font-family="'Liberation Serif','DejaVu Serif',serif" font-size="21" text-anchor="end">2</text>
<line x1="258.9" y1="298.7" x2="265.9" y2="298.7" stroke="#000" stroke-width="1.5"/>
<text x="252.3" y="306.1" font-family="'Liberation Serif','DejaVu Serif',serif" font-size="21" text-anchor="end">4</text>
<line x1="318.4" y1="429.2" x2="318.4" y2="436.2" stroke="#000" stroke-width="1.5"/>
<text x="318.4" y="459.5" font-family="'Liberation Serif','DejaVu Serif',serif" font-size="21" text-anchor="middle" textLength="28.5" lengthAdjust="spacingAndGlyphs">0.2</text>
<line x1="370.9" y1="429.2" x2="370.9" y2="436.2" stroke="#000" stroke-width="1.5"/>
<text x="370.9" y="459.5" font-family="'Liberation Serif','DejaVu Serif',serif" font-size="21" text-anchor="middle" textLength="28.5" lengthAdjust="spacingAndGlyphs">0.4</text>
<line x1="423.4" y1="429.2" x2="423.4" y2="436.2" stroke="#000" stroke-width="1.5"/>
<text x="423.4" y="459.5" font-family="'Liberation Serif','DejaVu Serif',serif" font-size="21" text-anchor="middle" textLength="28.5" lengthAdjust="spacingAndGlyphs">0.6</text>
<line x1="475.9" y1="429.2" x2="475.9" y2="436.2" stroke="#000" stroke-width="1.5"/>
<text x="475.9" y="459.5" font-family="'Liberation Serif','DejaVu Serif',serif" font-size="21" text-anchor="middle" textLength="28.5" lengthAdjust="spacingAndGlyphs">0.8</text>
<line x1="528.4" y1="429.2" x2="528.4" y2="436.2" stroke="#000" stroke-width="1.5"/>
<text x="528.4" y="459.5" font-family="'Liberation Serif','DejaVu Serif',serif" font-size="21" text-anchor="middle" textLength="28.5" lengthAdjust="spacingAndGlyphs">1.0</text>
<text x="256.5" y="251.6" font-family="'Liberation Serif','DejaVu Serif',serif" font-size="23" font-style="italic">q</text>
<text x="266.8" y="255.4" font-family="'Liberation Serif','DejaVu Serif',serif" font-size="14.5" font-style="italic" textLength="8.6" lengthAdjust="spacingAndGlyphs">λ</text>
<text x="234" y="445.2" font-family="'Liberation Sans','DejaVu Sans',sans-serif" font-size="22" textLength="27" lengthAdjust="spacingAndGlyphs">(d)</text>
<text x="554" y="442" font-family="'DejaVu Serif',serif" font-size="19" font-style="italic" textLength="12" lengthAdjust="spacingAndGlyphs">γ</text>
<text x="565.8" y="443.5" font-family="'Liberation Serif','DejaVu Serif',serif" font-size="14.5" font-style="italic" textLength="8.6" lengthAdjust="spacingAndGlyphs">λ</text>
<defs><pattern id="dots" x="636.15" y="8.34" width="5.905" height="5.905" patternUnits="userSpaceOnUse"><circle cx="1.45" cy="1.45" r="1.4" fill="#0000ff"/></pattern></defs>
<rect x="635.2" y="9.5" width="134.8" height="134.8" fill="#fff" stroke="none" stroke-width="1"/>
<rect x="641.6" y="16.3" width="27.2" height="27.2" fill="#ff7f0e" stroke="none" stroke-width="1" fill-opacity="1.0"/>
<path d="M691.8 9.5L770 9.5L770 87.7Z" fill="url(#dots)"/>
<path d="M635.2 66.1L635.2 144.3L713.4 144.3Z" fill="url(#dots)"/>
<line x1="691.8" y1="9.5" x2="770" y2="87.7" stroke="#0000ff" stroke-width="3.0"/>
<line x1="635.2" y1="66.1" x2="713.4" y2="144.3" stroke="#0000ff" stroke-width="3.0"/>
<rect x="635.2" y="9.5" width="134.8" height="134.8" fill="none" stroke="#000" stroke-width="1.8"/>
<rect x="781.3" y="9.5" width="134.8" height="134.8" fill="#fff" stroke="none" stroke-width="1"/>
<rect x="788" y="16.3" width="80.9" height="80.9" fill="#ff7f0e" stroke="none" stroke-width="1" fill-opacity="0.6"/>
<path d="M837.9 9.5L916.1 9.5L916.1 87.7Z" fill="url(#dots)"/>
<path d="M781.3 66.1L781.3 144.3L859.5 144.3Z" fill="url(#dots)"/>
<line x1="837.9" y1="9.5" x2="916.1" y2="87.7" stroke="#0000ff" stroke-width="3.0"/>
<line x1="781.3" y1="66.1" x2="859.5" y2="144.3" stroke="#0000ff" stroke-width="3.0"/>
<rect x="781.3" y="9.5" width="134.8" height="134.8" fill="none" stroke="#000" stroke-width="1.8"/>
<rect x="927.4" y="9.5" width="134.8" height="134.8" fill="#fff" stroke="none" stroke-width="1"/>
<rect x="931.4" y="13.6" width="127.3" height="126.4" fill="#ff7f0e" stroke="none" stroke-width="1" fill-opacity="0.3"/>
<path d="M984 9.5L1062.2 9.5L1062.2 87.7Z" fill="url(#dots)"/>
<path d="M927.4 66.1L927.4 144.3L1005.6 144.3Z" fill="url(#dots)"/>
<line x1="984" y1="9.5" x2="1062.2" y2="87.7" stroke="#0000ff" stroke-width="3.0"/>
<line x1="927.4" y1="66.1" x2="1005.6" y2="144.3" stroke="#0000ff" stroke-width="3.0"/>
<rect x="927.4" y="9.5" width="134.8" height="134.8" fill="none" stroke="#000" stroke-width="1.8"/>
<text x="646.5" y="38.5" font-family="'Liberation Serif','DejaVu Serif',serif" font-size="21" font-style="italic">ρ</text>
<text x="657.5" y="30" font-family="'Liberation Serif','DejaVu Serif',serif" font-size="15" font-style="italic" textLength="10" lengthAdjust="spacingAndGlyphs">λ</text>
<line x1="645" y1="48.6" x2="665" y2="48.6" stroke="#000" stroke-width="1.2"/>
<path d="M641.8 48.6L647.8 46L647.8 51.2Z" fill="#000"/>
<path d="M668.6 48.6L662.6 51.2L662.6 46Z" fill="#000"/>
<text x="645.5" y="73" font-family="'Liberation Serif','DejaVu Serif',serif" font-size="22" font-style="italic">d</text>
<text x="657" y="62.3" font-family="'Liberation Serif','DejaVu Serif',serif" font-size="15">eff</text>
<text x="656.5" y="78.5" font-family="'Liberation Serif','DejaVu Serif',serif" font-size="15" font-style="italic" textLength="9.5" lengthAdjust="spacingAndGlyphs">λ</text>
<line x1="664" y1="88.3" x2="763" y2="88.3" stroke="#000" stroke-width="1.5"/>
<path d="M658.3 88.3L667.8 84.6L667.8 92Z" fill="#000"/>
<path d="M769.6 88.3L760.1 92L760.1 84.6Z" fill="#000"/>
<text x="704" y="113" font-family="'Liberation Serif','DejaVu Serif',serif" font-size="23" font-style="italic" textLength="23.5" lengthAdjust="spacingAndGlyphs">W</text>
<text x="726.3" y="118" font-family="'Liberation Serif','DejaVu Serif',serif" font-size="15" font-style="italic" textLength="9.5" lengthAdjust="spacingAndGlyphs">λ</text>
<line x1="626.7" y1="17" x2="626.7" y2="137" stroke="#000" stroke-width="1.5"/>
<path d="M626.7 9.6L630.4 19.1L623 19.1Z" fill="#000"/>
<path d="M626.7 143.9L623 134.4L630.4 134.4Z" fill="#000"/>
<text x="600" y="88" font-family="'Liberation Serif','DejaVu Serif',serif" font-size="23" font-style="italic">d</text>
<text x="611.5" y="92.5" font-family="'Liberation Serif','DejaVu Serif',serif" font-size="15" font-style="italic" textLength="10" lengthAdjust="spacingAndGlyphs">λ</text>
<rect x="631.8" y="155" width="440.8" height="271.2" fill="#fff" stroke="none" stroke-width="1"/>
<rect x="762.8" y="155" width="205" height="271.2" fill="#cccccc" stroke="none" stroke-width="1"/>
<path d="M636.6 155V426.2M657.6 155V426.2M672.5 155V426.2M684.1 155V426.2M693.5 155V426.2M701.5 155V426.2M708.4 155V426.2M714.5 155V426.2M720 155V426.2M755.9 155V426.2M776.9 155V426.2M791.9 155V426.2M803.4 155V426.2M812.9 155V426.2M820.9 155V426.2M827.8 155V426.2M833.9 155V426.2M839.4 155V426.2M875.3 155V426.2M896.3 155V426.2M911.2 155V426.2M922.8 155V426.2M932.2 155V426.2M940.2 155V426.2M947.1 155V426.2M953.2 155V426.2M958.7 155V426.2M994.6 155V426.2M1015.6 155V426.2M1030.6 155V426.2M1042.1 155V426.2M1051.6 155V426.2M1059.6 155V426.2M1066.5 155V426.2M631.8 395.8H1072.6M631.8 378.1H1072.6M631.8 365.6H1072.6M631.8 355.8H1072.6M631.8 347.9H1072.6M631.8 341.2H1072.6M631.8 335.3H1072.6M631.8 330.2H1072.6M631.8 325.6H1072.6M631.8 295.4H1072.6M631.8 277.7H1072.6M631.8 265.2H1072.6M631.8 255.4H1072.6M631.8 247.5H1072.6M631.8 240.8H1072.6M631.8 234.9H1072.6M631.8 229.8H1072.6M631.8 225.2H1072.6M631.8 195H1072.6M631.8 177.3H1072.6M631.8 164.8H1072.6" fill="none" stroke="#b0b0b0" stroke-width="1.2" stroke-dasharray="1.3 2.65"/>
<rect x="631.8" y="166" width="92.2" height="27.5" fill="#fff" stroke="none" stroke-width="1"/>
<clipPath id="cb"><rect x="631.8" y="155" width="440.8" height="271.2"/></clipPath>
<g clip-path="url(#cb)">
<path d="M631.8 354C633.2 351.7 634.8 349 640 340C645.2 331 655.1 313.6 663.2 300C671.3 286.4 681.8 269.7 688.7 258.3C695.6 246.9 699.3 240.3 704.6 231.5C709.9 222.7 715.3 213.4 720.6 205.7C725.9 197.9 731.6 190.4 736.5 185C741.4 179.6 745.6 176 750 173.3C754.4 170.6 759.8 169 763.1 168.7C766.4 168.4 766.4 169.8 769.8 171.4C773.1 173.1 777.8 175 783.2 178.6C788.6 182.2 795.9 188.2 802.3 193C808.7 197.8 815 203 821.4 207.3C827.8 211.6 835.4 215.9 840.5 218.8C845.6 221.7 848.2 223.2 852 224.9C855.8 226.7 859.6 228.2 863.4 229.3C867.2 230.4 870.9 231.2 874.9 231.7C878.9 232.2 883.5 232.1 887.5 232.5C891.5 232.9 896 234.2 898.9 234.4C901.8 234.6 901.2 233.2 904.7 233.5C908.2 233.8 914.2 235.5 919.9 236.3C925.6 237.2 933.3 237.9 939 238.6C944.7 239.2 949.2 240.1 954.3 240.2C959.4 240.3 962 239.3 969.6 239C977.2 238.7 988.3 238.9 1000 238.5C1011.7 238.1 1027.9 236.9 1040 236.5C1052.1 236.1 1067.3 236.1 1072.8 236" fill="none" stroke="#1f77b4" stroke-width="2.9" stroke-linejoin="round"/>
<path d="M631.8 368C634 364.3 638.2 357.3 645 346C651.8 334.7 662.9 316.7 672.8 300C682.7 283.3 696.7 258.5 704.6 245.6C712.5 232.7 714.7 229.9 720 222.5C725.3 215.1 731.2 206.7 736.5 201C741.8 195.3 746.8 192.1 752 188.5C757.2 184.9 762.7 181.7 767.9 179.6C773.1 177.5 778.4 176.9 783.2 175.8C788 174.7 792.6 173.7 796.6 172.9C800.6 172.1 804.1 170.5 807 171C809.9 171.5 810.8 173.4 813.8 175.8C816.8 178.2 821.4 182 825.2 185.3C829 188.6 832.9 192.8 836.7 195.8C840.5 198.8 844.6 201.6 848.1 203.5C851.6 205.4 855.1 206.2 857.7 207.3C860.3 208.4 861.6 208.7 863.6 210.3C865.6 212 867.9 217 870 217.2C872.1 217.4 873.9 212.9 876 211.5C878.1 210.1 880.5 208.4 882.7 209C884.9 209.6 886.7 212.5 889.4 215.3C892.1 218.1 896 224.3 898.9 225.8C901.8 227.3 904.4 224.5 906.6 224.3C908.8 224.2 909.8 224 912.3 224.9C914.8 225.8 918.6 228.5 921.8 230C925 231.5 928.2 232.9 931.4 233.9C934.6 234.9 936.1 235.7 940.9 236C945.7 236.3 951 235.7 960 235.8C969 235.9 981.7 236.7 995 236.7C1008.3 236.7 1027 236.2 1040 236C1053 235.8 1067.3 235.6 1072.8 235.5" fill="none" stroke="#1f77b4" stroke-width="2.9" stroke-linejoin="round" stroke-dasharray="10.5 4.6"/>
<path d="M631.8 336.3C634.8 335.9 643.6 335.1 650 334C656.4 332.9 663.3 331.7 670 329.5C676.7 327.3 684.2 324.1 690 321C695.8 317.9 700 314.8 705 311C710 307.2 715 302.7 720 298C725 293.3 730.8 287 735 283C739.2 279 741.4 276.4 745 274.1C748.6 271.8 752.7 270.3 756.5 269.3C760.3 268.3 764.1 267.7 767.9 268C771.7 268.3 775.3 269.2 779.4 271.2C783.5 273.2 787.3 276.3 792.7 279.8C798.1 283.3 805.4 288.1 811.8 292.2C818.2 296.3 824.8 301.2 830.9 304.7C837 308.2 842 310.9 848.1 313.3C854.2 315.7 861.2 317.6 867.2 319C873.2 320.4 877 321.1 884 322C891 322.9 901 323.8 909 324.3C917 324.8 924.8 324.8 931.8 324.9C938.8 325 945 325.1 951 324.9C957 324.7 962 323.9 968 323.5C974 323.1 980.8 322.7 987 322.4C993.2 322.1 996.2 321.8 1005 321.6C1013.8 321.4 1028.7 321.1 1040 321C1051.3 320.9 1067.3 320.8 1072.8 320.7" fill="none" stroke="#ff7f0e" stroke-width="2.9" stroke-linejoin="round"/>
<path d="M631.8 305C636.5 304.8 651.1 304.3 660 303.5C668.9 302.7 677.5 301.4 685 300C692.5 298.6 698.3 297 705 295C711.7 293 718.3 290.4 725 288C731.7 285.6 738.6 283.1 745 280.8C751.4 278.5 757.4 275.9 763.1 274.1C768.8 272.4 773.5 271.5 779.4 270.3C785.3 269.1 794.4 266.5 798.5 266.8C802.6 267.1 802 269.4 804.2 272.2C806.4 275 808.3 279.6 811.8 283.6C815.3 287.6 820.4 292.3 825.2 296.1C830 299.9 835.4 303.7 840.5 306.6C845.6 309.5 851 311.6 855.8 313.3C860.6 315.1 864.4 315.5 869.1 317.1C873.8 318.7 878.4 321.6 884 323C889.6 324.4 896.9 324.4 903 325.8C909.1 327.2 915.6 330.7 920.4 331.2C925.2 331.7 927.7 329.4 931.8 328.7C935.9 328 940.2 327.3 945 326.8C949.8 326.3 954.7 325.9 960.5 325.5C966.3 325.1 972.2 324.7 979.6 324.3C987 323.9 994.9 323.5 1005 323C1015.1 322.5 1028.7 321.9 1040 321.5C1051.3 321.1 1067.3 321 1072.8 320.9" fill="none" stroke="#ff7f0e" stroke-width="2.9" stroke-linejoin="round" stroke-dasharray="10.5 4.6"/>
<path d="M631.8 342.6C634.8 342.4 643.6 342.1 650 341.5C656.4 340.9 663.3 340.2 670 339C676.7 337.8 684.2 336.2 690 334.5C695.8 332.8 700 330.8 705 328.5C710 326.2 715 323.6 720 321C725 318.4 730.8 315.1 735 313C739.2 310.9 741.4 310.1 745 308.5C748.6 306.9 752.7 304.3 756.5 303.1C760.3 301.9 763.4 300.8 767.9 301.4C772.4 302 777.5 304 783.2 306.6C788.9 309.2 795.9 313.5 802.3 317.1C808.7 320.8 815 325.2 821.4 328.5C827.8 331.8 834.1 334.9 840.5 337.1C846.9 339.3 852.4 340.4 859.6 341.9C866.9 343.4 875.8 345.1 884 345.9C892.2 346.7 901 346.8 909 346.8C917 346.8 924.8 346.6 931.8 345.9C938.8 345.2 945 343.2 951 342.6C957 342 962 342.2 968 342C974 341.8 980.8 341.7 987 341.5C993.2 341.3 990.7 341 1005 340.7C1019.3 340.4 1061.5 339.8 1072.8 339.6" fill="none" stroke="#2ca02c" stroke-width="2.9" stroke-linejoin="round"/>
<path d="M631.8 320C636.5 319.9 650.3 319.9 660 319.5C669.7 319.1 680 318.6 690 317.5C700 316.4 710.8 314.8 720 313C729.2 311.2 737.6 308.8 745 306.6C752.4 304.4 757.7 302 764.1 299.9C770.5 297.8 778.4 295.3 783.2 294.2C788 293.1 789.8 293.7 792.7 293.2C795.6 292.7 798.2 290.8 800.4 291.3C802.6 291.8 804.2 293.6 806.1 296.1C808 298.7 809.2 303.1 811.8 306.6C814.3 310.1 818.2 313.8 821.4 317.1C824.6 320.4 827.7 323.7 830.9 326.6C834.1 329.5 837 332.1 840.5 334.3C844 336.5 847.9 338.6 852 340C856.1 341.4 860.9 341.7 865 343C869.1 344.3 872.4 346.2 876.5 347.8C880.6 349.4 884.7 351.4 889.8 352.6C894.9 353.8 901.3 354.8 907 354.9C912.7 355 918.5 354.3 924.2 353.5C929.9 352.7 936.9 351.4 941.4 350.3C945.9 349.2 946.6 347.4 951 346.8C955.4 346.2 962 347.1 968 346.8C974 346.5 980.8 345.4 987 344.9C993.2 344.4 990.7 344.2 1005 344C1019.3 343.8 1061.5 343.5 1072.8 343.4" fill="none" stroke="#2ca02c" stroke-width="2.9" stroke-linejoin="round" stroke-dasharray="10.5 4.6"/>
<path d="M631.8 336.8C634.8 336.6 643.6 336.1 650 335.5C656.4 334.9 663.3 334.2 670 333C676.7 331.8 684.2 329.8 690 328C695.8 326.2 700 324.2 705 322C710 319.8 715 317.3 720 315C725 312.7 730.8 309.7 735 308C739.2 306.3 740.8 306.2 745 305C749.2 303.8 756.2 301.7 760.3 300.8C764.4 299.9 766 299.4 769.8 299.9C773.6 300.4 777.8 301.3 783.2 303.7C788.6 306.1 795.9 310.8 802.3 314.2C808.7 317.6 815 320.9 821.4 323.8C827.8 326.7 834.1 329.3 840.5 331.4C846.9 333.5 852.4 334.9 859.6 336.2C866.9 337.5 875.8 338.4 884 339.2C892.2 340 901 340.8 909 341.1C917 341.4 924.8 341.4 931.8 341.1C938.8 340.9 945 340.1 951 339.6C957 339.1 962 338.7 968 338.3C974 337.9 980.8 337.6 987 337.3C993.2 337 990.7 336.5 1005 336.3C1019.3 336.1 1061.5 336.3 1072.8 336.3" fill="none" stroke="#d62728" stroke-width="2.9" stroke-linejoin="round"/>
<path d="M631.8 305.9C636.5 305.8 650.3 305.6 660 305C669.7 304.4 680 303.6 690 302.5C700 301.4 710.8 299.7 720 298.5C729.2 297.3 737.6 296.3 745 295.1C752.4 293.9 757.7 292.7 764.1 291.3C770.5 289.9 778.1 287.5 783.2 286.5C788.3 285.5 791.5 284.4 794.7 285.2C797.9 286 799.4 288.1 802.3 291.3C805.1 294.6 808.6 300.6 811.8 304.7C815 308.8 817.9 312.6 821.4 316.1C824.9 319.6 829.1 323.1 832.9 325.7C836.7 328.2 839.8 329.6 844.3 331.4C848.8 333.1 853 334.3 859.6 336.2C866.2 338.1 875.8 341.2 884 343C892.2 344.8 901 346.2 909 346.8C917 347.4 924.8 347.1 931.8 346.8C938.8 346.5 945 345.4 951 344.9C957 344.4 962 344.5 968 344C974 343.5 980.8 342.5 987 342C993.2 341.5 990.7 341.2 1005 341.1C1019.3 341 1061.5 341.1 1072.8 341.1" fill="none" stroke="#d62728" stroke-width="2.9" stroke-linejoin="round" stroke-dasharray="10.5 4.6"/>
<path d="M631.8 348.3C634.8 348 643.6 347.4 650 346.5C656.4 345.6 663.3 344.6 670 343C676.7 341.4 684.2 339.2 690 337C695.8 334.8 700 332.7 705 330C710 327.3 715 324.3 720 321C725 317.7 730.8 313.1 735 310C739.2 306.9 740.8 304.9 745 302.7C749.2 300.5 753.9 298.8 760.3 297C766.7 295.2 777.5 292.7 783.2 292.2C788.9 291.7 789.9 292.9 794.7 294.2C799.5 295.5 805.8 298 811.8 299.9C817.8 301.8 824.8 304.2 830.9 305.6C837 307 842 307.7 848.1 308.5C854.2 309.3 861.2 309.8 867.2 310.6C873.2 311.4 877 312.4 884 313.4C891 314.3 901 316.1 909 316.3C917 316.5 924.8 314.6 931.8 314.4C938.8 314.1 945 314.9 951 314.8C957 314.7 962 314.4 968 314C974 313.6 980.8 312.6 987 312.1C993.2 311.6 996.2 311.3 1005 311.2C1013.8 311.1 1028.7 311.4 1040 311.5C1051.3 311.6 1067.3 311.5 1072.8 311.5" fill="none" stroke="#9467bd" stroke-width="2.9" stroke-linejoin="round"/>
<path d="M631.8 324.8C636.5 324.6 651.1 324.4 660 323.5C668.9 322.6 677.5 321.2 685 319.5C692.5 317.8 698.3 315.6 705 313C711.7 310.4 718.3 307 725 304C731.7 301 738.5 298.7 745 295.1C751.5 291.6 758.4 286 764.1 282.7C769.8 279.4 774.3 277.4 779.4 275.1C784.5 272.8 789.5 270.6 794.7 268.8C800 267 807.1 263.9 810.9 264.5C814.7 265.1 815.2 268.8 817.6 272.2C820 275.6 823 280.6 825.2 284.6C827.4 288.6 828.4 293.7 830.9 296.1C833.4 298.5 836.4 297.5 840.5 298.9C844.6 300.3 851 302.5 855.8 304.7C860.6 306.9 865.6 310.2 869.1 312.3C872.6 314.4 873 315.4 876.5 317.2C880 319 885.4 321.6 889.8 323C894.2 324.4 898.5 326.1 903 325.8C907.5 325.5 911.8 322.3 916.6 321C921.4 319.7 926.1 318.5 931.8 318.2C937.5 317.9 945 319.5 951 319.2C957 318.9 962 317.1 968 316.3C974 315.5 975 314.7 987 314.4C999 314.1 1025.7 314.4 1040 314.4C1054.3 314.4 1067.3 314.4 1072.8 314.4" fill="none" stroke="#9467bd" stroke-width="2.9" stroke-linejoin="round" stroke-dasharray="10.5 4.6"/>
<path d="M631.8 395C636.5 394.8 651.4 394.5 660 393.9C668.6 393.3 675.6 392.8 683.4 391.5C691.2 390.2 698.9 388.5 706.7 386.2C714.5 383.9 722.3 380.4 730.1 377.5C737.9 374.6 746.8 370.9 753.4 368.9C760 366.8 765.5 366 769.8 365.2C774.1 364.4 775.2 363.7 779.1 364.2C783 364.7 787.7 366.6 793.1 368.2C798.5 369.8 804.8 372.1 811.8 374C818.8 375.9 827.2 378.2 835.1 379.9C843 381.5 851.5 382.6 859 383.9C866.5 385.1 871.4 386.5 880 387.4C888.6 388.3 900.7 389.5 910.4 389.5C920.1 389.5 929.1 388.1 938.4 387.4C947.7 386.7 956.7 386.1 966.4 385.5C976.1 384.9 979.1 384.2 996.8 383.9C1014.5 383.6 1060.1 383.9 1072.8 383.9" fill="none" stroke="#8c564b" stroke-width="2.9" stroke-linejoin="round"/>
<path d="M631.8 368.9C638.4 368.8 659.2 368.9 671.7 368.2C684.2 367.5 697 366.2 706.7 364.7C716.4 363.1 721.9 361 730.1 358.9C738.3 356.8 746.8 354.4 755.7 351.9C764.7 349.4 775.8 345.8 783.8 343.7C791.8 341.6 798.9 339.1 803.6 339.5C808.3 339.9 808.5 342.6 811.8 346C815.1 349.4 819.6 355.7 823.5 360C827.4 364.3 831.2 368.2 835.1 371.7C839 375.2 843.2 378.1 846.8 381C850.4 383.9 852.7 386.6 856.7 389C860.7 391.4 864.9 393.7 870.7 395.6C876.5 397.5 885.1 399.4 891.7 400.2C898.3 401 904.6 400.6 910.4 400.2C916.2 399.8 920.1 398.9 926.7 397.9C933.3 396.9 942.2 395.1 950 394.2C957.8 393.3 963.7 393.1 973.4 392.5C983.1 391.9 996.7 391.1 1008.4 390.7C1020.1 390.3 1032.8 390.4 1043.5 390.2C1054.2 390 1067.9 389.8 1072.8 389.7" fill="none" stroke="#8c564b" stroke-width="2.9" stroke-linejoin="round" stroke-dasharray="10.5 4.6"/>
</g>
<rect x="631.8" y="155" width="440.8" height="271.2" fill="none" stroke="#000" stroke-width="1.65"/>
<line x1="636.6" y1="426.2" x2="636.6" y2="429.9" stroke="#000" stroke-width="1.15"/>
<line x1="657.6" y1="426.2" x2="657.6" y2="429.9" stroke="#000" stroke-width="1.15"/>
<line x1="672.5" y1="426.2" x2="672.5" y2="429.9" stroke="#000" stroke-width="1.15"/>
<line x1="684.1" y1="426.2" x2="684.1" y2="429.9" stroke="#000" stroke-width="1.15"/>
<line x1="693.5" y1="426.2" x2="693.5" y2="429.9" stroke="#000" stroke-width="1.15"/>
<line x1="701.5" y1="426.2" x2="701.5" y2="429.9" stroke="#000" stroke-width="1.15"/>
<line x1="708.4" y1="426.2" x2="708.4" y2="429.9" stroke="#000" stroke-width="1.15"/>
<line x1="714.5" y1="426.2" x2="714.5" y2="429.9" stroke="#000" stroke-width="1.15"/>
<line x1="720" y1="426.2" x2="720" y2="433.2" stroke="#000" stroke-width="1.5"/>
<line x1="755.9" y1="426.2" x2="755.9" y2="429.9" stroke="#000" stroke-width="1.15"/>
<line x1="776.9" y1="426.2" x2="776.9" y2="429.9" stroke="#000" stroke-width="1.15"/>
<line x1="791.9" y1="426.2" x2="791.9" y2="429.9" stroke="#000" stroke-width="1.15"/>
<line x1="803.4" y1="426.2" x2="803.4" y2="429.9" stroke="#000" stroke-width="1.15"/>
<line x1="812.9" y1="426.2" x2="812.9" y2="429.9" stroke="#000" stroke-width="1.15"/>
<line x1="820.9" y1="426.2" x2="820.9" y2="429.9" stroke="#000" stroke-width="1.15"/>
<line x1="827.8" y1="426.2" x2="827.8" y2="429.9" stroke="#000" stroke-width="1.15"/>
<line x1="833.9" y1="426.2" x2="833.9" y2="429.9" stroke="#000" stroke-width="1.15"/>
<line x1="839.4" y1="426.2" x2="839.4" y2="433.2" stroke="#000" stroke-width="1.5"/>
<line x1="875.3" y1="426.2" x2="875.3" y2="429.9" stroke="#000" stroke-width="1.15"/>
<line x1="896.3" y1="426.2" x2="896.3" y2="429.9" stroke="#000" stroke-width="1.15"/>
<line x1="911.2" y1="426.2" x2="911.2" y2="429.9" stroke="#000" stroke-width="1.15"/>
<line x1="922.8" y1="426.2" x2="922.8" y2="429.9" stroke="#000" stroke-width="1.15"/>
<line x1="932.2" y1="426.2" x2="932.2" y2="429.9" stroke="#000" stroke-width="1.15"/>
<line x1="940.2" y1="426.2" x2="940.2" y2="429.9" stroke="#000" stroke-width="1.15"/>
<line x1="947.1" y1="426.2" x2="947.1" y2="429.9" stroke="#000" stroke-width="1.15"/>
<line x1="953.2" y1="426.2" x2="953.2" y2="429.9" stroke="#000" stroke-width="1.15"/>
<line x1="958.7" y1="426.2" x2="958.7" y2="433.2" stroke="#000" stroke-width="1.5"/>
<line x1="994.6" y1="426.2" x2="994.6" y2="429.9" stroke="#000" stroke-width="1.15"/>
<line x1="1015.6" y1="426.2" x2="1015.6" y2="429.9" stroke="#000" stroke-width="1.15"/>
<line x1="1030.6" y1="426.2" x2="1030.6" y2="429.9" stroke="#000" stroke-width="1.15"/>
<line x1="1042.1" y1="426.2" x2="1042.1" y2="429.9" stroke="#000" stroke-width="1.15"/>
<line x1="1051.6" y1="426.2" x2="1051.6" y2="429.9" stroke="#000" stroke-width="1.15"/>
<line x1="1059.6" y1="426.2" x2="1059.6" y2="429.9" stroke="#000" stroke-width="1.15"/>
<line x1="1066.5" y1="426.2" x2="1066.5" y2="429.9" stroke="#000" stroke-width="1.15"/>
<line x1="1072.6" y1="426.2" x2="1072.6" y2="429.9" stroke="#000" stroke-width="1.15"/>
<line x1="628.1" y1="395.8" x2="631.8" y2="395.8" stroke="#000" stroke-width="1.15"/>
<line x1="628.1" y1="378.1" x2="631.8" y2="378.1" stroke="#000" stroke-width="1.15"/>
<line x1="628.1" y1="365.6" x2="631.8" y2="365.6" stroke="#000" stroke-width="1.15"/>
<line x1="628.1" y1="355.8" x2="631.8" y2="355.8" stroke="#000" stroke-width="1.15"/>
<line x1="628.1" y1="347.9" x2="631.8" y2="347.9" stroke="#000" stroke-width="1.15"/>
<line x1="628.1" y1="341.2" x2="631.8" y2="341.2" stroke="#000" stroke-width="1.15"/>
<line x1="628.1" y1="335.3" x2="631.8" y2="335.3" stroke="#000" stroke-width="1.15"/>
<line x1="628.1" y1="330.2" x2="631.8" y2="330.2" stroke="#000" stroke-width="1.15"/>
<line x1="624.8" y1="325.6" x2="631.8" y2="325.6" stroke="#000" stroke-width="1.5"/>
<line x1="628.1" y1="295.4" x2="631.8" y2="295.4" stroke="#000" stroke-width="1.15"/>
<line x1="628.1" y1="277.7" x2="631.8" y2="277.7" stroke="#000" stroke-width="1.15"/>
<line x1="628.1" y1="265.2" x2="631.8" y2="265.2" stroke="#000" stroke-width="1.15"/>
<line x1="628.1" y1="255.4" x2="631.8" y2="255.4" stroke="#000" stroke-width="1.15"/>
<line x1="628.1" y1="247.5" x2="631.8" y2="247.5" stroke="#000" stroke-width="1.15"/>
<line x1="628.1" y1="240.8" x2="631.8" y2="240.8" stroke="#000" stroke-width="1.15"/>
<line x1="628.1" y1="234.9" x2="631.8" y2="234.9" stroke="#000" stroke-width="1.15"/>
<line x1="628.1" y1="229.8" x2="631.8" y2="229.8" stroke="#000" stroke-width="1.15"/>
<line x1="624.8" y1="225.2" x2="631.8" y2="225.2" stroke="#000" stroke-width="1.5"/>
<line x1="628.1" y1="195" x2="631.8" y2="195" stroke="#000" stroke-width="1.15"/>
<line x1="628.1" y1="177.3" x2="631.8" y2="177.3" stroke="#000" stroke-width="1.15"/>
<line x1="628.1" y1="164.8" x2="631.8" y2="164.8" stroke="#000" stroke-width="1.15"/>
<line x1="628.1" y1="155" x2="631.8" y2="155" stroke="#000" stroke-width="1.15"/>
<text x="699.7" y="455" font-family="'Liberation Serif','DejaVu Serif',serif" font-size="21" textLength="21" lengthAdjust="spacingAndGlyphs">10</text><text x="721" y="447.4" font-family="'Liberation Serif','DejaVu Serif',serif" font-size="15.1" textLength="19.7" lengthAdjust="spacingAndGlyphs">−1</text>
<text x="825.1" y="455" font-family="'Liberation Serif','DejaVu Serif',serif" font-size="21" textLength="21" lengthAdjust="spacingAndGlyphs">10</text><text x="846.4" y="447.4" font-family="'Liberation Serif','DejaVu Serif',serif" font-size="15.1" textLength="7.9" lengthAdjust="spacingAndGlyphs">0</text>
<text x="944.3" y="455" font-family="'Liberation Serif','DejaVu Serif',serif" font-size="21" textLength="21" lengthAdjust="spacingAndGlyphs">10</text><text x="965.6" y="447.4" font-family="'Liberation Serif','DejaVu Serif',serif" font-size="15.1" textLength="7.9" lengthAdjust="spacingAndGlyphs">1</text>
<text x="577.3" y="234" font-family="'Liberation Serif','DejaVu Serif',serif" font-size="21" textLength="21" lengthAdjust="spacingAndGlyphs">10</text><text x="598.6" y="226.4" font-family="'Liberation Serif','DejaVu Serif',serif" font-size="15.1" textLength="19.7" lengthAdjust="spacingAndGlyphs">−2</text>
<text x="577.3" y="334.4" font-family="'Liberation Serif','DejaVu Serif',serif" font-size="21" textLength="21" lengthAdjust="spacingAndGlyphs">10</text><text x="598.6" y="326.8" font-family="'Liberation Serif','DejaVu Serif',serif" font-size="15.1" textLength="19.7" lengthAdjust="spacingAndGlyphs">−3</text>
<path d="M681.7 154.2L672 144.4L691.5 144.4Z" fill="#111"/>
<path d="M796.5 154.2L786.8 144.4L806.2 144.4Z" fill="#111"/>
<path d="M943.3 154.2L933.5 144.4L953 144.4Z" fill="#111"/>
<text x="638.6" y="184.7" font-family="'Liberation Serif','DejaVu Serif',serif" font-size="23" font-style="italic" textLength="9.6" lengthAdjust="spacingAndGlyphs">v</text>
<text x="648.3" y="188.9" font-family="'Liberation Serif','DejaVu Serif',serif" font-size="14.5" font-style="italic" textLength="8.2" lengthAdjust="spacingAndGlyphs">λ</text>
<text x="658.8" y="184.7" font-family="'Liberation Serif','DejaVu Serif',serif" font-size="23">,</text>
<text x="668.6" y="184.7" font-family="'Liberation Serif','DejaVu Serif',serif" font-size="22" font-style="italic" textLength="15.6" lengthAdjust="spacingAndGlyphs">R</text>
<text x="685.3" y="188.9" font-family="'Liberation Serif','DejaVu Serif',serif" font-size="14.5" font-style="italic" textLength="8.2" lengthAdjust="spacingAndGlyphs">λ</text>
<text x="694.6" y="184.7" font-family="'Liberation Serif','DejaVu Serif',serif" font-size="22" font-style="italic" textLength="15.3" lengthAdjust="spacingAndGlyphs">A</text>
<text x="711.4" y="188.9" font-family="'Liberation Serif','DejaVu Serif',serif" font-size="14.5" font-style="italic" textLength="8.2" lengthAdjust="spacingAndGlyphs">λ</text>
<line x1="597.7" y1="458.4" x2="1106" y2="458.4" stroke="#f5f5f5" stroke-width="1"/>
<circle cx="1097.2" cy="301.4" r="2" fill="#ededed"/>
<text x="601.3" y="445.3" font-family="'Liberation Sans','DejaVu Sans',sans-serif" font-size="22" textLength="28.3" lengthAdjust="spacingAndGlyphs">(b)</text>
<text x="1081" y="434.8" font-family="'Liberation Serif','DejaVu Serif',serif" font-size="22.3" font-style="italic" textLength="38" lengthAdjust="spacingAndGlyphs">J/U</text>
<rect x="1157.2" y="39" width="451.2" height="386.2" fill="#fff" stroke="none" stroke-width="1"/>
<rect x="1291.2" y="39" width="209.8" height="386.2" fill="#cccccc" stroke="none" stroke-width="1"/>
<path d="M1162.3 39V425.2M1183.8 39V425.2M1199 39V425.2M1210.8 39V425.2M1220.5 39V425.2M1228.7 39V425.2M1235.8 39V425.2M1242 39V425.2M1247.6 39V425.2M1284.4 39V425.2M1305.9 39V425.2M1321.1 39V425.2M1332.9 39V425.2M1342.6 39V425.2M1350.8 39V425.2M1357.9 39V425.2M1364.1 39V425.2M1369.7 39V425.2M1406.5 39V425.2M1428 39V425.2M1443.2 39V425.2M1455 39V425.2M1464.7 39V425.2M1472.9 39V425.2M1480 39V425.2M1486.2 39V425.2M1491.8 39V425.2M1528.6 39V425.2M1550.1 39V425.2M1565.3 39V425.2M1577.1 39V425.2M1586.8 39V425.2M1595 39V425.2M1602.1 39V425.2" fill="none" stroke="#a2a2a2" stroke-width="1.25" stroke-dasharray="1.3 2.65"/>
<line x1="1157.2" y1="46.9" x2="1608.4" y2="46.9" stroke="#2ca02c" stroke-width="1.3" stroke-opacity="0.9"/>
<line x1="1157.2" y1="51.1" x2="1608.4" y2="51.1" stroke="#ff7f0e" stroke-width="1.3" stroke-opacity="0.9"/>
<line x1="1157.2" y1="59.9" x2="1608.4" y2="59.9" stroke="#8c564b" stroke-width="1.3" stroke-opacity="0.9"/>
<line x1="1157.2" y1="63.4" x2="1608.4" y2="63.4" stroke="#d62728" stroke-width="1.3" stroke-opacity="0.9"/>
<line x1="1157.2" y1="93.1" x2="1608.4" y2="93.1" stroke="#9467bd" stroke-width="1.3" stroke-opacity="0.9"/>
<line x1="1157.2" y1="96.4" x2="1608.4" y2="96.4" stroke="#1f77b4" stroke-width="1.3" stroke-opacity="0.9"/>
<clipPath id="cc"><rect x="1157.2" y="39" width="451.2" height="386.2"/></clipPath>
<g clip-path="url(#cc)">
<path d="M1157.4 353.8C1160.7 353.6 1174.4 353 1181.9 352.2C1189.4 351.4 1207.3 349.2 1213.7 348.1C1220.1 347 1225.3 345.3 1229.6 343.6C1233.9 341.9 1241.3 338.4 1245.6 335.3C1249.9 332.2 1257.7 325.1 1261.5 320.4C1265.3 315.7 1271.2 305.3 1274.3 300C1277.4 294.7 1282.4 285.7 1284.9 280.7C1287.4 275.7 1291.9 265.4 1293.4 262.6C1294.9 259.8 1295.2 261.8 1296.1 260C1297 258.2 1298.4 253.2 1299.9 249.4C1301.4 245.6 1305.3 236.1 1307.3 231.6C1309.3 227.1 1312.7 219.2 1314.7 215.3C1316.7 211.4 1320 205.9 1322.1 202.5C1324.2 199.1 1328.5 192.9 1330.8 190C1333.1 187.1 1337.4 182.9 1339.6 180.5C1341.8 178.1 1345 174.5 1347 172.3C1349 170.1 1352.4 166.7 1354.4 164.2C1356.4 161.7 1360.5 155.8 1361.9 153.8C1363.3 151.8 1363.6 150.9 1365 149.3C1366.4 147.7 1370.5 143 1372.2 141.7C1373.9 140.4 1375.8 140.7 1377.5 139.6C1379.2 138.5 1383.1 134.2 1384.9 133.2C1386.7 132.2 1389.9 133.2 1391.3 132.2C1392.7 131.2 1394.5 127.1 1395.5 125.8C1396.5 124.5 1397.7 123.3 1398.5 122.8C1399.3 122.3 1400.3 121.2 1401.4 121.9C1402.5 122.6 1404.8 127 1406.5 128.3C1408.2 129.6 1412.1 132.5 1414.1 131.6C1416.1 130.7 1419.6 124.6 1421.8 121.9C1424 119.2 1428.3 112.3 1430.7 111.2C1433.1 110.1 1437.1 113.8 1439.6 113.7C1442.1 113.6 1447.4 111.7 1449.8 110.4C1452.2 109.1 1455.1 105.5 1457.5 104C1459.9 102.5 1465 100.2 1467.7 99.5C1470.4 98.8 1475.2 98.9 1477.9 98.9C1480.6 98.9 1486.3 99.2 1488.1 99.5C1489.9 99.8 1490.1 101 1491.2 101C1492.3 101 1494.6 99.5 1496.3 99.5C1498 99.5 1501.6 100.9 1504 101C1506.4 101.1 1510.9 100.7 1514 100.2C1517.1 99.7 1524.1 97.4 1527 96.9C1529.9 96.4 1533.4 96.2 1535.8 96.4C1538.2 96.6 1540.1 97.8 1544.7 98.2C1549.3 98.6 1561.7 99.3 1570.2 99.5C1578.7 99.7 1603.2 99.5 1608.3 99.5" fill="none" stroke="#1f77b4" stroke-width="2.9" stroke-linejoin="round"/>
<path d="M1157.4 174.9C1169.5 175 1207.7 175 1230 175.3C1252.3 175.6 1274.7 175.6 1291 176.5C1307.3 177.4 1316.3 179.2 1327.7 180.7C1339.1 182.2 1348.9 184.1 1359.5 185.5C1370.1 186.9 1381.3 188.3 1391.4 189.3C1401.5 190.3 1410.2 190.8 1420 191.5C1429.8 192.2 1436.7 193 1450 193.4C1463.3 193.8 1473.6 194 1500 194.2C1526.4 194.3 1590.2 194.3 1608.3 194.3" fill="none" stroke="#1f77b4" stroke-width="2.9" stroke-linejoin="round" stroke-dasharray="10.5 4.6"/>
<path d="M1157.4 300.6C1160.7 300.5 1176.2 300.1 1181.9 299.8C1187.6 299.5 1194.8 298.8 1200 298.1C1205.2 297.4 1215.5 296.1 1221.2 294.5C1226.9 292.9 1236.8 289.5 1242.5 286C1248.2 282.5 1259.5 272.2 1263.7 267.9C1267.9 263.6 1271.5 258.2 1274.3 254.1C1277.1 250 1282.6 241.7 1285 237.5C1287.4 233.3 1290.4 226.9 1292.4 222.7C1294.4 218.5 1298.1 210.4 1299.9 206.3C1301.7 202.2 1304.7 195.4 1306 192C1307.3 188.6 1308.4 184.9 1309.9 181C1311.4 177.1 1315.3 167.7 1317.3 162.7C1319.3 157.7 1323 147.8 1324.7 143.4C1326.4 139 1328.1 133.5 1329.9 130C1331.7 126.5 1336.2 120.4 1338.2 117.3C1340.2 114.2 1342.6 109.5 1344.6 106.7C1346.6 103.9 1350.8 98.8 1353.1 96.1C1355.4 93.4 1359.3 88.6 1361.6 86.5C1363.9 84.4 1367.6 81.7 1370.1 80.2C1372.6 78.7 1378.2 76.3 1380.7 74.9C1383.2 73.5 1386.6 70.9 1389.2 69.6C1391.8 68.3 1397.7 66 1400 65.3C1402.3 64.6 1403.9 65.3 1406.5 64.5C1409.1 63.7 1415.8 60.4 1419.2 59.4C1422.6 58.4 1428.6 57.8 1432 56.9C1435.4 56 1442 53.9 1444.7 53C1447.4 52.1 1450.4 50.7 1452.4 50.5C1454.4 50.3 1457.6 51.3 1460 51.8C1462.4 52.3 1467.1 53.6 1470.2 54.3C1473.3 55 1479.5 56 1483 56.9C1486.5 57.8 1491.5 60.2 1496.3 60.7C1501.1 61.2 1512.7 60.2 1519.2 60.7C1525.7 61.2 1537.9 63.8 1544.7 64.5C1551.5 65.2 1561.7 65.7 1570.2 65.8C1578.7 65.9 1603.2 65.4 1608.3 65.3" fill="none" stroke="#ff7f0e" stroke-width="2.9" stroke-linejoin="round"/>
<path d="M1157.4 127.1C1169.5 127.2 1207.7 127.1 1230 127.5C1252.3 127.9 1274.7 128.2 1291 129.3C1307.3 130.4 1316.3 132.5 1327.7 133.9C1339.1 135.3 1348.9 136.5 1359.5 137.7C1370.1 138.9 1381.3 140.2 1391.4 140.9C1401.5 141.7 1401.9 141.9 1420 142.2C1438.1 142.5 1468.6 142.7 1500 142.8C1531.4 142.9 1590.2 142.8 1608.3 142.8" fill="none" stroke="#ff7f0e" stroke-width="2.9" stroke-linejoin="round" stroke-dasharray="10.5 4.6"/>
<path d="M1157.4 279.9C1160.7 279.8 1176.2 279.4 1181.9 279.2C1187.6 279 1194.8 278.7 1200 278.1C1205.2 277.5 1215.5 276.1 1221.2 274.7C1226.9 273.3 1236.8 270.2 1242.5 267.5C1248.2 264.8 1259.5 257.3 1263.7 254.1C1267.9 250.9 1271.5 246.7 1274.3 243.5C1277.1 240.3 1282.6 233.7 1285 230.1C1287.4 226.5 1290.4 220.3 1292.4 216.7C1294.4 213.1 1298.1 206.8 1299.9 203.4C1301.7 200 1304.7 193.9 1306 191C1307.3 188.1 1308.4 185.4 1309.9 182C1311.4 178.6 1315.3 170.5 1317.3 165.7C1319.3 160.9 1322.9 151.1 1324.7 146.3C1326.5 141.5 1329 134.1 1330.7 130C1332.4 125.9 1335.6 118.6 1337.2 115.2C1338.8 111.8 1341 107.3 1342.5 104.6C1344 101.9 1347.1 97.4 1348.8 95C1350.5 92.6 1353.2 88.8 1355.2 86.5C1357.2 84.2 1361.2 80.3 1363.7 78C1366.2 75.7 1371.5 71.6 1374.3 69.6C1377.1 67.6 1382.4 64.5 1384.9 63.2C1387.4 61.9 1390.5 61 1393.4 60C1396.3 59 1403.1 56.9 1406.5 55.6C1409.9 54.3 1416.1 51.1 1419.2 50C1422.3 48.9 1426.3 47.9 1429.4 47.4C1432.5 46.9 1439.5 45.9 1442.2 46.2C1444.9 46.5 1447.8 49.7 1449.8 50C1451.8 50.3 1455.1 48.3 1457.5 48.5C1459.9 48.7 1464.6 50.8 1467.7 51.8C1470.8 52.8 1477.3 55.2 1480.4 56.1C1483.5 57 1487.5 58.6 1491.2 58.7C1494.9 58.8 1504.1 56.6 1507.8 56.9C1511.5 57.2 1514.3 59.9 1519.2 60.7C1524.1 61.5 1536.2 62.4 1544.7 62.7C1553.2 63 1574.5 62.8 1583 62.7C1591.5 62.6 1604.9 62.1 1608.3 62" fill="none" stroke="#2ca02c" stroke-width="2.9" stroke-linejoin="round"/>
<path d="M1157.4 120.7C1169.5 120.8 1207.7 120.6 1230 121C1252.3 121.4 1274.7 122 1291 122.9C1307.3 123.8 1316.3 125.3 1327.7 126.6C1339.1 127.9 1348.9 129.5 1359.5 130.7C1370.1 131.9 1381.3 133.2 1391.4 133.9C1401.5 134.7 1401.9 134.8 1420 135.2C1438.1 135.6 1468.6 136 1500 136.2C1531.4 136.4 1590.2 136.4 1608.3 136.4" fill="none" stroke="#2ca02c" stroke-width="2.9" stroke-linejoin="round" stroke-dasharray="10.5 4.6"/>
<path d="M1157.4 273.2C1160.7 273.1 1176.2 272.6 1181.9 272.3C1187.6 272 1194.8 271.7 1200 271.1C1205.2 270.5 1215.5 268.9 1221.2 267.5C1226.9 266.1 1236.8 263.1 1242.5 260.5C1248.2 257.9 1259.5 250.8 1263.7 247.8C1267.9 244.8 1271.5 241.7 1274.3 238.2C1277.1 234.7 1282.6 225.7 1285 221.9C1287.4 218.1 1290.7 212.9 1292.4 210C1294.1 207.1 1296.4 202.9 1298 200C1299.6 197.1 1302.7 191.5 1304.3 188.5C1305.9 185.5 1308.2 180.9 1309.9 177.5C1311.6 174.1 1315.3 166.7 1317.3 162.7C1319.3 158.7 1323.1 151 1324.7 147.8C1326.3 144.6 1328 141.3 1329.2 138.9C1330.4 136.5 1332.4 132.3 1333.6 130C1334.8 127.7 1336.7 124 1338.2 121.6C1339.7 119.2 1342.6 114.8 1344.6 112C1346.6 109.2 1350.8 103.1 1353.1 100.3C1355.4 97.5 1359.3 92.8 1361.6 90.8C1363.9 88.8 1367.6 87.2 1370.1 85.5C1372.6 83.8 1378.2 79.6 1380.7 78C1383.2 76.4 1386.6 74.6 1389.2 73.8C1391.8 73 1397.7 72.1 1400 71.7C1402.3 71.3 1403.9 71.2 1406.5 70.9C1409.1 70.6 1415.8 70.3 1419.2 69.6C1422.6 68.9 1428.6 66.7 1432 65.8C1435.4 64.9 1441.3 63.4 1444.7 63.2C1448.1 63 1454.1 64.3 1457.5 64.5C1460.9 64.7 1466.8 64.3 1470.2 64.5C1473.6 64.7 1479.6 65.5 1483 65.8C1486.4 66.1 1492.1 66.6 1495.7 67.1C1499.3 67.6 1505.2 68.7 1510 69.3C1514.8 69.9 1525.7 70.9 1532 71.4C1538.3 71.9 1547.3 72.7 1557.5 72.9C1567.7 73.1 1601.5 72.9 1608.3 72.9" fill="none" stroke="#d62728" stroke-width="2.9" stroke-linejoin="round"/>
<path d="M1157.4 136.6C1169.5 136.7 1207.7 136.6 1230 136.9C1252.3 137.2 1274.7 137.5 1291 138.4C1307.3 139.3 1316.3 141.1 1327.7 142.5C1339.1 143.9 1348.9 145.5 1359.5 146.6C1370.1 147.7 1381.3 148.3 1391.4 148.9C1401.5 149.5 1401.9 149.8 1420 150C1438.1 150.2 1468.6 150.3 1500 150.4C1531.4 150.5 1590.2 150.4 1608.3 150.4" fill="none" stroke="#d62728" stroke-width="2.9" stroke-linejoin="round" stroke-dasharray="10.5 4.6"/>
<path d="M1157.4 300.6C1160.7 300.5 1176.2 300.3 1181.9 300C1187.6 299.7 1194.8 299.2 1200 298.7C1205.2 298.2 1215.5 297 1221.2 296C1226.9 295 1236.8 293.2 1242.5 291.3C1248.2 289.4 1259.5 284 1263.7 281.7C1267.9 279.4 1271.5 276.4 1274.3 274.3C1277.1 272.2 1282.6 267.9 1284.9 266C1287.2 264.1 1289.7 262.3 1291.7 260C1293.7 257.7 1297.8 251.9 1299.9 248.7C1302 245.5 1305.6 239 1307.3 236.1C1309 233.2 1311.2 228.7 1312.5 227.1C1313.8 225.5 1315.8 226 1316.9 224.2C1318 222.4 1319.8 216.6 1320.7 213.8C1321.6 211 1322.6 205.2 1323.6 203.4C1324.6 201.6 1326.7 202.2 1328.1 200.4C1329.5 198.6 1332.9 191.7 1334 190C1335.1 188.3 1335.3 190.1 1336.6 188C1337.9 185.9 1342.6 178.2 1344 174.6C1345.4 171 1346 163.6 1347 161.2C1348 158.8 1350.1 159.3 1351.5 156.7C1352.9 154.1 1356.4 145.2 1357.4 141.9C1358.4 138.6 1358.9 133.9 1359.3 132C1359.7 130.1 1359.9 127.7 1360.5 127.9C1361.1 128.1 1362.7 133.1 1363.7 133.2C1364.7 133.3 1365.9 130 1367.9 129C1369.9 128 1376.3 126.8 1378.6 125.8C1380.9 124.8 1382.9 123 1384.9 121.6C1386.9 120.2 1391.4 116.9 1393.4 115.2C1395.4 113.5 1398.3 110.3 1400 108.8C1401.7 107.3 1403.9 105.3 1406.5 104C1409.1 102.7 1416.1 100.3 1419.2 98.9C1422.3 97.5 1427 94 1429.4 93.3C1431.8 92.6 1435.1 92.6 1437.1 93.3C1439.1 94 1442 97.6 1444.7 98.9C1447.4 100.2 1454.1 102.2 1457.5 102.8C1460.9 103.4 1466.8 103.5 1470.2 103.5C1473.6 103.5 1480.5 102.8 1483 102.8C1485.5 102.8 1486.5 102.9 1488.6 103.5C1490.7 104.1 1495.7 106.4 1498.8 107.1C1501.9 107.8 1505.5 108.7 1511.6 109.1C1517.7 109.5 1531.8 110.2 1544.7 110.4C1557.6 110.6 1599.8 110.4 1608.3 110.4" fill="none" stroke="#9467bd" stroke-width="2.9" stroke-linejoin="round"/>
<path d="M1157.4 166.9C1169.5 167 1207.7 167 1230 167.4C1252.3 167.8 1274.7 168.2 1291 169.1C1307.3 170 1316.3 171.5 1327.7 172.7C1339.1 173.9 1348.9 175.4 1359.5 176.5C1370.1 177.6 1381.3 178.5 1391.4 179.1C1401.5 179.7 1401.9 179.9 1420 180.2C1438.1 180.5 1468.6 180.6 1500 180.7C1531.4 180.8 1590.2 180.7 1608.3 180.7" fill="none" stroke="#9467bd" stroke-width="2.9" stroke-linejoin="round" stroke-dasharray="10.5 4.6"/>
<path d="M1157.4 249.6C1160.7 249.5 1176.2 249.4 1181.9 249.2C1187.6 249 1194.8 248.9 1200 248.4C1205.2 247.9 1215.5 246.7 1221.2 245.6C1226.9 244.5 1236.8 242.3 1242.5 240.3C1248.2 238.3 1259.5 232.9 1263.7 230.8C1267.9 228.7 1271.5 226.2 1274.3 224.4C1277.1 222.6 1282.6 219.5 1285 217.5C1287.4 215.5 1290.3 211.6 1292.4 209.3C1294.5 207 1298.7 203.5 1301 200.3C1303.3 197.1 1307.7 188.8 1309.9 185C1312.1 181.2 1315.3 175.2 1317.3 171.6C1319.3 168 1323.1 161.2 1324.7 158.2C1326.3 155.2 1328.2 151.8 1329.2 149.3C1330.2 146.8 1331.3 141.6 1332.3 139.5C1333.3 137.4 1335.1 135.5 1336.5 133.5C1337.9 131.5 1340.9 127.2 1342.5 124.8C1344.1 122.4 1347.1 117.5 1348.8 115.2C1350.5 112.9 1353.2 110.3 1355.2 107.8C1357.2 105.3 1361.4 98.8 1363.7 96.1C1366 93.4 1369.9 89.7 1372.2 87.6C1374.5 85.5 1378.4 82 1380.7 80.2C1383 78.4 1386.6 75.5 1389.2 73.8C1391.8 72.1 1397.7 68.9 1400 67.5C1402.3 66.1 1403.9 64.5 1406.5 63.5C1409.1 62.5 1415.8 60.7 1419.2 60.2C1422.6 59.7 1428.6 59.4 1432 59.4C1435.4 59.4 1441.3 59.7 1444.7 60.2C1448.1 60.7 1454.1 62.5 1457.5 63.2C1460.9 63.9 1466.8 65.3 1470.2 65.8C1473.6 66.3 1479.6 66.7 1483 67.1C1486.4 67.5 1492.1 68.3 1495.7 68.9C1499.3 69.5 1505.2 70.9 1510 71.4C1514.8 71.9 1524 72.6 1532 72.9C1540 73.2 1559.8 73.2 1570 73.3C1580.2 73.4 1603.2 73.4 1608.3 73.4" fill="none" stroke="#8c564b" stroke-width="2.9" stroke-linejoin="round"/>
<path d="M1157.4 131.9C1169.5 132 1207.7 131.9 1230 132.3C1252.3 132.7 1274.7 133.2 1291 134.1C1307.3 135 1316.3 136.5 1327.7 137.7C1339.1 138.8 1348.9 140 1359.5 141C1370.1 142 1381.3 143 1391.4 143.5C1401.5 144 1401.9 144.1 1420 144.2C1438.1 144.3 1468.6 144.3 1500 144.3C1531.4 144.3 1590.2 144.2 1608.3 144.2" fill="none" stroke="#8c564b" stroke-width="2.9" stroke-linejoin="round" stroke-dasharray="10.5 4.6"/>
</g>
<rect x="1157.2" y="39" width="451.2" height="386.2" fill="none" stroke="#000" stroke-width="1.65"/>
<line x1="1162.3" y1="425.2" x2="1162.3" y2="428.9" stroke="#000" stroke-width="1.15"/>
<line x1="1183.8" y1="425.2" x2="1183.8" y2="428.9" stroke="#000" stroke-width="1.15"/>
<line x1="1199" y1="425.2" x2="1199" y2="428.9" stroke="#000" stroke-width="1.15"/>
<line x1="1210.8" y1="425.2" x2="1210.8" y2="428.9" stroke="#000" stroke-width="1.15"/>
<line x1="1220.5" y1="425.2" x2="1220.5" y2="428.9" stroke="#000" stroke-width="1.15"/>
<line x1="1228.7" y1="425.2" x2="1228.7" y2="428.9" stroke="#000" stroke-width="1.15"/>
<line x1="1235.8" y1="425.2" x2="1235.8" y2="428.9" stroke="#000" stroke-width="1.15"/>
<line x1="1242" y1="425.2" x2="1242" y2="428.9" stroke="#000" stroke-width="1.15"/>
<line x1="1247.6" y1="425.2" x2="1247.6" y2="432.2" stroke="#000" stroke-width="1.5"/>
<line x1="1284.4" y1="425.2" x2="1284.4" y2="428.9" stroke="#000" stroke-width="1.15"/>
<line x1="1305.9" y1="425.2" x2="1305.9" y2="428.9" stroke="#000" stroke-width="1.15"/>
<line x1="1321.1" y1="425.2" x2="1321.1" y2="428.9" stroke="#000" stroke-width="1.15"/>
<line x1="1332.9" y1="425.2" x2="1332.9" y2="428.9" stroke="#000" stroke-width="1.15"/>
<line x1="1342.6" y1="425.2" x2="1342.6" y2="428.9" stroke="#000" stroke-width="1.15"/>
<line x1="1350.8" y1="425.2" x2="1350.8" y2="428.9" stroke="#000" stroke-width="1.15"/>
<line x1="1357.9" y1="425.2" x2="1357.9" y2="428.9" stroke="#000" stroke-width="1.15"/>
<line x1="1364.1" y1="425.2" x2="1364.1" y2="428.9" stroke="#000" stroke-width="1.15"/>
<line x1="1369.7" y1="425.2" x2="1369.7" y2="432.2" stroke="#000" stroke-width="1.5"/>
<line x1="1406.5" y1="425.2" x2="1406.5" y2="428.9" stroke="#000" stroke-width="1.15"/>
<line x1="1428" y1="425.2" x2="1428" y2="428.9" stroke="#000" stroke-width="1.15"/>
<line x1="1443.2" y1="425.2" x2="1443.2" y2="428.9" stroke="#000" stroke-width="1.15"/>
<line x1="1455" y1="425.2" x2="1455" y2="428.9" stroke="#000" stroke-width="1.15"/>
<line x1="1464.7" y1="425.2" x2="1464.7" y2="428.9" stroke="#000" stroke-width="1.15"/>
<line x1="1472.9" y1="425.2" x2="1472.9" y2="428.9" stroke="#000" stroke-width="1.15"/>
<line x1="1480" y1="425.2" x2="1480" y2="428.9" stroke="#000" stroke-width="1.15"/>
<line x1="1486.2" y1="425.2" x2="1486.2" y2="428.9" stroke="#000" stroke-width="1.15"/>
<line x1="1491.8" y1="425.2" x2="1491.8" y2="432.2" stroke="#000" stroke-width="1.5"/>
<line x1="1528.6" y1="425.2" x2="1528.6" y2="428.9" stroke="#000" stroke-width="1.15"/>
<line x1="1550.1" y1="425.2" x2="1550.1" y2="428.9" stroke="#000" stroke-width="1.15"/>
<line x1="1565.3" y1="425.2" x2="1565.3" y2="428.9" stroke="#000" stroke-width="1.15"/>
<line x1="1577.1" y1="425.2" x2="1577.1" y2="428.9" stroke="#000" stroke-width="1.15"/>
<line x1="1586.8" y1="425.2" x2="1586.8" y2="428.9" stroke="#000" stroke-width="1.15"/>
<line x1="1595" y1="425.2" x2="1595" y2="428.9" stroke="#000" stroke-width="1.15"/>
<line x1="1602.1" y1="425.2" x2="1602.1" y2="428.9" stroke="#000" stroke-width="1.15"/>
<line x1="1608.3" y1="425.2" x2="1608.3" y2="428.9" stroke="#000" stroke-width="1.15"/>
<line x1="1153.5" y1="396.3" x2="1157.2" y2="396.3" stroke="#000" stroke-width="1.15"/>
<line x1="1153.5" y1="374" x2="1157.2" y2="374" stroke="#000" stroke-width="1.15"/>
<line x1="1153.5" y1="358.1" x2="1157.2" y2="358.1" stroke="#000" stroke-width="1.15"/>
<line x1="1153.5" y1="345.8" x2="1157.2" y2="345.8" stroke="#000" stroke-width="1.15"/>
<line x1="1153.5" y1="335.8" x2="1157.2" y2="335.8" stroke="#000" stroke-width="1.15"/>
<line x1="1153.5" y1="327.3" x2="1157.2" y2="327.3" stroke="#000" stroke-width="1.15"/>
<line x1="1153.5" y1="319.9" x2="1157.2" y2="319.9" stroke="#000" stroke-width="1.15"/>
<line x1="1153.5" y1="313.4" x2="1157.2" y2="313.4" stroke="#000" stroke-width="1.15"/>
<line x1="1150.2" y1="307.6" x2="1157.2" y2="307.6" stroke="#000" stroke-width="1.5"/>
<line x1="1153.5" y1="269.4" x2="1157.2" y2="269.4" stroke="#000" stroke-width="1.15"/>
<line x1="1153.5" y1="247.1" x2="1157.2" y2="247.1" stroke="#000" stroke-width="1.15"/>
<line x1="1153.5" y1="231.2" x2="1157.2" y2="231.2" stroke="#000" stroke-width="1.15"/>
<line x1="1153.5" y1="218.9" x2="1157.2" y2="218.9" stroke="#000" stroke-width="1.15"/>
<line x1="1153.5" y1="208.9" x2="1157.2" y2="208.9" stroke="#000" stroke-width="1.15"/>
<line x1="1153.5" y1="200.4" x2="1157.2" y2="200.4" stroke="#000" stroke-width="1.15"/>
<line x1="1153.5" y1="193" x2="1157.2" y2="193" stroke="#000" stroke-width="1.15"/>
<line x1="1153.5" y1="186.5" x2="1157.2" y2="186.5" stroke="#000" stroke-width="1.15"/>
<line x1="1150.2" y1="180.7" x2="1157.2" y2="180.7" stroke="#000" stroke-width="1.5"/>
<line x1="1153.5" y1="142.5" x2="1157.2" y2="142.5" stroke="#000" stroke-width="1.15"/>
<line x1="1153.5" y1="120.2" x2="1157.2" y2="120.2" stroke="#000" stroke-width="1.15"/>
<line x1="1153.5" y1="104.3" x2="1157.2" y2="104.3" stroke="#000" stroke-width="1.15"/>
<line x1="1153.5" y1="92" x2="1157.2" y2="92" stroke="#000" stroke-width="1.15"/>
<line x1="1153.5" y1="82" x2="1157.2" y2="82" stroke="#000" stroke-width="1.15"/>
<line x1="1153.5" y1="73.5" x2="1157.2" y2="73.5" stroke="#000" stroke-width="1.15"/>
<line x1="1153.5" y1="66.1" x2="1157.2" y2="66.1" stroke="#000" stroke-width="1.15"/>
<line x1="1153.5" y1="59.6" x2="1157.2" y2="59.6" stroke="#000" stroke-width="1.15"/>
<line x1="1150.2" y1="53.8" x2="1157.2" y2="53.8" stroke="#000" stroke-width="1.5"/>
<text x="1227.3" y="454.3" font-family="'Liberation Serif','DejaVu Serif',serif" font-size="21" textLength="21" lengthAdjust="spacingAndGlyphs">10</text><text x="1248.6" y="446.7" font-family="'Liberation Serif','DejaVu Serif',serif" font-size="15.1" textLength="19.7" lengthAdjust="spacingAndGlyphs">−1</text>
<text x="1355.1" y="454.3" font-family="'Liberation Serif','DejaVu Serif',serif" font-size="21" textLength="21" lengthAdjust="spacingAndGlyphs">10</text><text x="1376.4" y="446.7" font-family="'Liberation Serif','DejaVu Serif',serif" font-size="15.1" textLength="7.9" lengthAdjust="spacingAndGlyphs">0</text>
<text x="1477.4" y="454.3" font-family="'Liberation Serif','DejaVu Serif',serif" font-size="21" textLength="21" lengthAdjust="spacingAndGlyphs">10</text><text x="1498.7" y="446.7" font-family="'Liberation Serif','DejaVu Serif',serif" font-size="15.1" textLength="7.9" lengthAdjust="spacingAndGlyphs">1</text>
<text x="1114.9" y="61.6" font-family="'Liberation Serif','DejaVu Serif',serif" font-size="21" textLength="21" lengthAdjust="spacingAndGlyphs">10</text><text x="1136.2" y="54" font-family="'Liberation Serif','DejaVu Serif',serif" font-size="15.1" textLength="7.9" lengthAdjust="spacingAndGlyphs">3</text>
<text x="1114.9" y="188.5" font-family="'Liberation Serif','DejaVu Serif',serif" font-size="21" textLength="21" lengthAdjust="spacingAndGlyphs">10</text><text x="1136.2" y="180.9" font-family="'Liberation Serif','DejaVu Serif',serif" font-size="15.1" textLength="7.9" lengthAdjust="spacingAndGlyphs">2</text>
<text x="1114.9" y="315.4" font-family="'Liberation Serif','DejaVu Serif',serif" font-size="21" textLength="21" lengthAdjust="spacingAndGlyphs">10</text><text x="1136.2" y="307.8" font-family="'Liberation Serif','DejaVu Serif',serif" font-size="15.1" textLength="7.9" lengthAdjust="spacingAndGlyphs">1</text>
<path d="M1210.8 38.3L1201 28.5L1220.5 28.5Z" fill="#111"/>
<path d="M1325.7 38.3L1316 28.5L1335.5 28.5Z" fill="#111"/>
<path d="M1477.1 38.3L1467.3 28.5L1486.8 28.5Z" fill="#111"/>
<text x="1115.3" y="30.6" font-family="'Liberation Serif','DejaVu Serif',serif" font-size="22" font-style="italic">d</text>
<text x="1127" y="20.8" font-family="'Liberation Serif','DejaVu Serif',serif" font-size="15">eff</text>
<text x="1126.5" y="35" font-family="'Liberation Serif','DejaVu Serif',serif" font-size="15" font-style="italic" textLength="9.5" lengthAdjust="spacingAndGlyphs">λ</text>
<text x="1146" y="30.6" font-family="'Liberation Serif','DejaVu Serif',serif" font-size="22">,</text>
<text x="1154" y="30.6" font-family="'Liberation Serif','DejaVu Serif',serif" font-size="22" font-style="italic" textLength="21" lengthAdjust="spacingAndGlyphs">W</text>
<text x="1175" y="35" font-family="'Liberation Serif','DejaVu Serif',serif" font-size="15" font-style="italic" textLength="9.5" lengthAdjust="spacingAndGlyphs">λ</text>
<text x="1129" y="442.4" font-family="'Liberation Sans','DejaVu Sans',sans-serif" font-size="22" textLength="25.5" lengthAdjust="spacingAndGlyphs">(c)</text>
<text x="1613" y="435.5" font-family="'Liberation Serif','DejaVu Serif',serif" font-size="22.3" font-style="italic" textLength="38.3" lengthAdjust="spacingAndGlyphs">J/U</text>
<rect x="1333.3" y="256" width="216.3" height="138.7" fill="#fff" stroke="none" stroke-width="1"/>
<rect x="1397" y="256" width="101.3" height="138.7" fill="#cccccc" stroke="none" stroke-width="1"/>
<clipPath id="ci"><rect x="1333.3" y="256" width="216.3" height="138.7"/></clipPath>
<g clip-path="url(#ci)" stroke-opacity="0.8">
<path d="M1333.2 390.6C1334.5 390.3 1340.8 389.2 1342.9 388.5C1345 387.8 1347.2 385.7 1348.6 385.3C1350 384.9 1351.9 386.5 1353.4 385.7C1354.9 384.9 1358.2 380.7 1360.1 379C1362 377.3 1365.4 375.7 1367.7 373.3C1370 370.9 1374.8 364.8 1377.3 360.8C1379.8 356.8 1384.3 348.7 1386.8 343.6C1389.3 338.5 1394.1 327.1 1396.4 322.6C1398.7 318.1 1402 313.5 1404 310C1406 306.5 1409.4 300.7 1411.7 296.6C1414 292.5 1418.7 283 1421.2 279.4C1423.7 275.8 1428.3 271.7 1430.8 269.8C1433.3 267.9 1437.8 265.8 1440.3 265C1442.8 264.2 1446.1 263.4 1449.9 263.7C1453.7 264 1463.6 266.2 1468.6 267C1473.6 267.8 1482.6 269.5 1487.7 269.8C1492.8 270.1 1501.7 269.3 1506.8 269.4C1511.9 269.5 1520.2 270.4 1526 270.8C1531.8 271.2 1546.8 272.4 1550 272.7" fill="none" stroke="#1f77b4" stroke-width="2.9" stroke-linejoin="round"/>
<path d="M1333.2 374.4C1335.3 374 1345.3 372.2 1348.6 371.3C1351.9 370.4 1355.7 368.8 1358.2 367.5C1360.7 366.2 1365.2 363.7 1367.7 361.8C1370.2 359.9 1374.8 356.1 1377.3 353.2C1379.8 350.3 1384.3 344.1 1386.8 339.8C1389.3 335.5 1394.1 325.6 1396.4 320.7C1398.7 315.8 1402 307.6 1404 303C1406 298.4 1409.4 290.1 1411.7 286C1414 281.9 1418.7 274.8 1421.2 272C1423.7 269.2 1428.3 266.5 1430.8 265C1433.3 263.5 1435 261.1 1440 260.6C1445 260.1 1462.2 261 1468.6 261.2C1475 261.4 1483.9 261.6 1487.7 262.2C1491.5 262.8 1494 264.5 1497.3 266C1500.6 267.5 1508.8 272.2 1512.6 273.6C1516.4 275 1521 275.9 1526 276.5C1531 277.1 1546.8 278.1 1550 278.4" fill="none" stroke="#ff7f0e" stroke-width="2.9" stroke-linejoin="round"/>
<path d="M1333.2 361C1335.3 360.6 1344 359.4 1348.6 357.8C1353.2 356.2 1363.9 351.3 1367.7 349.3C1371.5 347.3 1374.8 344.8 1377.3 342.6C1379.8 340.4 1384.3 336 1386.8 332.7C1389.3 329.4 1394.1 321.9 1396.4 317.5C1398.7 313.1 1402 304.5 1404 300C1406 295.5 1409.4 287.9 1411.7 284C1414 280.1 1418.7 273.6 1421.2 271C1423.7 268.4 1428.3 265.6 1430.8 264.5C1433.3 263.4 1435 263.2 1440 262.6C1445 262 1463 260.4 1468.6 260.3C1474.2 260.2 1478.2 261.1 1482 262.2C1485.8 263.3 1493.2 266.7 1497.3 268.9C1501.4 271.1 1508.8 276.7 1512.6 278.4C1516.4 280.1 1521 280.8 1526 281.3C1531 281.8 1546.8 282.1 1550 282.2" fill="none" stroke="#2ca02c" stroke-width="2.9" stroke-linejoin="round"/>
<path d="M1333.2 357.4C1335.3 356.8 1344 354.9 1348.6 353.2C1353.2 351.5 1363.9 346.5 1367.7 344.6C1371.5 342.7 1374.8 340.9 1377.3 338.9C1379.8 336.9 1384.3 332.5 1386.8 329.3C1389.3 326.1 1394.1 319.2 1396.4 315C1398.7 310.8 1402 302.4 1404 298C1406 293.6 1409.4 285.7 1411.7 282C1414 278.3 1418.7 272.4 1421.2 270C1423.7 267.6 1428.3 265 1430.8 264C1433.3 263 1435 262.5 1440 262.2C1445 261.9 1462.2 261 1468.6 261.8C1475 262.6 1483.1 266.1 1487.7 267.9C1492.3 269.7 1499.2 274.1 1503 275.6C1506.8 277.1 1510.1 278.6 1516.4 279.4C1522.7 280.2 1545.5 281 1550 281.3" fill="none" stroke="#d62728" stroke-width="2.9" stroke-linejoin="round"/>
<path d="M1333.2 362.6C1335.3 362.2 1344 360.9 1348.6 359.3C1353.2 357.7 1363.9 352.4 1367.7 350.3C1371.5 348.2 1374.8 345.9 1377.3 343.6C1379.8 341.3 1384.1 336.7 1386.8 333.1C1389.5 329.5 1395.3 320.5 1397.3 316.9C1399.3 313.3 1400.2 309.8 1402.1 306.1C1404 302.4 1409.2 293 1411.7 288.9C1414.2 284.8 1418.7 278.4 1421.2 275.6C1423.7 272.8 1428.3 269.3 1430.8 267.9C1433.3 266.5 1435.3 265.4 1440.3 265.3C1445.3 265.2 1462.3 265.9 1468.6 267C1474.9 268.1 1483.1 272.2 1487.7 273.6C1492.3 275 1499.2 276.9 1503 277.5C1506.8 278.1 1510.1 278.1 1516.4 278.4C1522.7 278.7 1545.5 279.3 1550 279.4" fill="none" stroke="#9467bd" stroke-width="2.9" stroke-linejoin="round"/>
<path d="M1333.2 359.9C1335.3 359.5 1344 358.1 1348.6 356.6C1353.2 355.1 1363.9 350.4 1367.7 348.4C1371.5 346.4 1374.8 343.9 1377.3 341.7C1379.8 339.5 1384.3 335.5 1386.8 332.2C1389.3 328.9 1393.8 322.4 1396.4 316.9C1399 311.4 1403.5 296.4 1406 290.8C1408.5 285.2 1413 277.9 1415.5 274.6C1418 271.3 1422.5 267.6 1425 266C1427.5 264.4 1432.1 262.9 1434.6 262.6C1437.1 262.3 1439.8 263.8 1444.1 263.5C1448.4 263.2 1462.2 260.5 1466.7 260.3C1471.2 260.1 1474.6 260.7 1478.2 262.2C1481.8 263.7 1489.4 268.9 1493.5 271.7C1497.6 274.5 1504.5 281.4 1508.8 283.2C1513.1 285 1520.5 284.8 1526 285.1C1531.5 285.4 1546.8 285.4 1550 285.5" fill="none" stroke="#8c564b" stroke-width="2.9" stroke-linejoin="round"/>
<path d="M1333.2 290.3C1335 290 1346.1 287.9 1348.6 288C1351.1 288.1 1352.2 291 1354.4 291.2C1356.6 291.4 1364.6 289.8 1367.7 289.9C1370.8 290 1378.6 291.1 1381.1 291.8C1383.6 292.5 1387 294.2 1388.8 295.6C1390.6 297 1394.8 301.6 1396.4 304.2C1398 306.8 1401.2 315.7 1402.1 317.6C1403 319.5 1403.1 318.6 1404 320.7C1404.9 322.8 1408.2 332.7 1409.8 336C1411.4 339.3 1415.6 347.5 1417.4 349.4C1419.2 351.3 1423.2 351.2 1425 352.2C1426.8 353.2 1430.9 356.3 1432.7 358C1434.5 359.7 1438.8 366.1 1440.3 366.6C1441.8 367.1 1444.2 363.7 1445.7 362.7C1447.2 361.7 1451.2 359.4 1453.4 358C1455.6 356.6 1462.6 351.7 1464.8 350.3C1467 348.9 1470.9 346.7 1472.5 345.6C1474.1 344.5 1476.9 341.9 1478.2 340.8C1479.5 339.7 1482.5 336.7 1483.9 336C1485.3 335.3 1489 336.1 1490.6 335.1C1492.2 334.1 1495.4 328.7 1497.3 327.2C1499.2 325.7 1504.8 322.4 1506.8 322C1508.8 321.6 1512.7 323.9 1514.5 323.5C1516.3 323.1 1520.1 319.8 1522.1 318.6C1524.1 317.4 1529.2 313.7 1531.7 312.8C1534.2 311.9 1541 311.2 1543.1 310.9C1545.2 310.6 1549.2 310.5 1550 310.5" fill="none" stroke="#1f77b4" stroke-width="2.9" stroke-linejoin="round" stroke-dasharray="10.5 4.6"/>
<path d="M1333.2 275.6C1336.1 275.7 1353.5 276 1358.2 276.5C1362.9 277 1370.6 279.1 1373.5 280.3C1376.4 281.5 1381 284.9 1383 287C1385 289.1 1389.4 296.1 1390.7 298.5C1392 300.9 1393.8 306 1394.5 308C1395.2 310 1395.5 312.4 1396.4 315.7C1397.3 319 1400.8 332.1 1402.1 336C1403.4 339.9 1406.3 345.8 1407.9 349.4C1409.5 353 1413.7 363 1415.5 366.6C1417.3 370.2 1421.3 377.2 1423.1 379.9C1424.9 382.6 1429.2 389 1430.8 389.5C1432.4 390 1434.9 385.6 1436.5 383.8C1438.1 382 1442.8 375.8 1444.1 374.2C1445.4 372.6 1446.3 371.6 1447.6 370.4C1448.9 369.2 1453.7 363.7 1455.3 363.7C1456.9 363.7 1459.7 370.5 1461 370.4C1462.3 370.3 1465.4 364.4 1466.7 362.7C1468 361 1471.2 356.5 1472.5 356.1C1473.8 355.7 1477.1 357.5 1478.2 358.9C1479.3 360.3 1481.1 366.9 1482 368.5C1482.9 370.1 1484.8 372.7 1485.8 372.3C1486.8 371.9 1489.7 367.6 1490.6 364.7C1491.5 361.8 1492.8 351.5 1493.5 347.5C1494.2 343.5 1495.7 332.9 1496.3 330.3C1496.9 327.7 1498 326.2 1499 325C1500 323.8 1503.3 321.2 1504.9 319.8C1506.5 318.4 1510.6 313.7 1512.6 312.8C1514.6 311.9 1520.3 312.8 1522.1 311.8C1523.9 310.8 1526.3 305.4 1527.9 304.2C1529.5 303 1532.9 301.8 1535.5 301.3C1538.1 300.8 1548.3 300.3 1550 300.2" fill="none" stroke="#ff7f0e" stroke-width="2.9" stroke-linejoin="round" stroke-dasharray="10.5 4.6"/>
<path d="M1333.2 264.1C1336.1 264.2 1353.1 264.5 1358.2 265.1C1363.3 265.7 1374 267.8 1377.3 268.9C1380.6 270 1385 272.9 1386.8 274.6C1388.6 276.3 1391.5 280 1392.6 283.2C1393.7 286.4 1395.7 297.8 1396.4 302.3C1397.1 306.8 1397.9 317 1398.3 321.4C1398.7 325.8 1399.8 335.8 1400.2 339.8C1400.6 343.8 1401.5 354.8 1402.1 356.1C1402.7 357.4 1403.9 351.6 1405 351.3C1406.1 351 1410 352.1 1411.7 353.2C1413.4 354.3 1417.9 357.5 1419.3 360.8C1420.7 364.1 1423 380 1424.1 381.8C1425.2 383.6 1427.9 377.4 1428.9 376.1C1429.9 374.8 1431.7 369.3 1432.7 370.4C1433.7 371.5 1436.4 385.5 1437.5 385.7C1438.6 385.9 1440.8 375 1442.2 372.3C1443.6 369.6 1447.5 364.4 1449.5 362.7C1451.5 361 1456.9 358 1459.1 358C1461.3 358 1466.8 361.3 1468.6 362.7C1470.4 364.1 1473.3 368.7 1474.4 370.4C1475.5 372.1 1477.2 377.5 1478.2 377.1C1479.2 376.7 1481.9 369.8 1483 366.6C1484.1 363.4 1486.7 352.7 1487.7 349.4C1488.7 346.1 1490.7 340.3 1491.6 337.9C1492.5 335.4 1494.5 329.9 1495.4 328.4C1496.3 326.9 1497.9 326.7 1499.2 325.2C1500.5 323.7 1504.8 317.8 1506.8 315.7C1508.8 313.6 1514.2 308.5 1516.4 307.1C1518.6 305.7 1523.8 304 1526 303.3C1528.2 302.6 1532.7 301.7 1535.5 301.3C1538.3 300.9 1548.3 300.3 1550 300.2" fill="none" stroke="#2ca02c" stroke-width="2.9" stroke-linejoin="round" stroke-dasharray="10.5 4.6"/>
<path d="M1333.2 265.6C1336.1 265.7 1353.1 265.8 1358.2 266.4C1363.3 267 1374 269.6 1377.3 270.8C1380.6 272 1384.8 274.6 1386.8 276.5C1388.8 278.4 1393.2 283.5 1394.5 287C1395.8 290.5 1397.5 302.1 1398.3 306.1C1399.1 310.1 1400.4 317.7 1401.2 321.4C1402 325.1 1404 334.2 1405 337.9C1406 341.6 1408.1 351.1 1409.8 353.2C1411.5 355.3 1417.3 355.2 1419.3 356.1C1421.3 357 1425.4 359.1 1427 360.8C1428.6 362.5 1431.4 368.4 1432.7 370.4C1434 372.4 1437.3 378.2 1438.4 378C1439.5 377.8 1441.3 370.5 1442.2 368.5C1443.1 366.5 1444.2 362 1445.7 360.8C1447.2 359.6 1453.1 357.8 1455.3 358C1457.5 358.2 1462.8 361.5 1464.8 362.7C1466.8 363.9 1471.1 367.3 1472.5 368.5C1473.9 369.7 1476.2 374 1477.2 373.3C1478.2 372.6 1480.1 366.2 1481.1 362.7C1482.1 359.2 1484.6 347.8 1485.8 343.6C1487 339.4 1490.6 329.1 1491.6 326.5C1492.6 323.9 1493.3 323.1 1494.4 321.4C1495.5 319.7 1499 313.6 1501.1 311.8C1503.2 310 1510.1 307.1 1512.6 306.1C1515 305.1 1517.7 304 1522.1 303.3C1526.5 302.6 1546.7 300.6 1550 300.2" fill="none" stroke="#d62728" stroke-width="2.9" stroke-linejoin="round" stroke-dasharray="10.5 4.6"/>
<path d="M1333.2 267.5C1336.1 267.6 1353.1 267.8 1358.2 268.3C1363.3 268.8 1374 270.7 1377.3 271.7C1380.6 272.7 1384.6 274.9 1386.8 276.5C1389 278.1 1394.6 282.5 1396.4 285.1C1398.2 287.7 1401 295.4 1402.1 298.5C1403.2 301.6 1405.3 309.2 1406 311.8C1406.7 314.4 1407.2 318.3 1407.9 320.7C1408.6 323.1 1410.6 330 1411.7 332.2C1412.8 334.4 1416.1 339 1417.4 339.8C1418.7 340.6 1422 338 1423.1 338.9C1424.2 339.8 1426.1 345.4 1427 347.5C1427.9 349.6 1429.7 355.4 1430.8 357C1431.9 358.6 1435.4 361.6 1436.5 360.8C1437.6 360 1439.2 351.6 1440.3 350.3C1441.4 349 1444.4 348.8 1445.7 349.4C1447 350 1450.2 354.7 1451.5 355.1C1452.8 355.5 1455.6 352.6 1457.2 353.2C1458.8 353.8 1463.2 360.1 1464.8 359.9C1466.4 359.7 1469.3 354.3 1470.6 351.3C1471.9 348.3 1475.2 337.2 1476.3 334.1C1477.4 331 1479 327 1480.1 324.5C1481.2 322 1483.8 314.9 1485.8 312.8C1487.8 310.7 1494.2 307.3 1497.3 306.1C1500.4 304.9 1509.3 303 1512.6 302.3C1515.9 301.6 1521.6 300.7 1526 300.4C1530.4 300.1 1547.2 299.5 1550 299.4" fill="none" stroke="#9467bd" stroke-width="2.9" stroke-linejoin="round" stroke-dasharray="10.5 4.6"/>
<path d="M1333.2 261.8C1336.1 261.8 1353.1 261.9 1358.2 262.2C1363.3 262.5 1374 263.5 1377.3 264.1C1380.6 264.7 1384.6 265.7 1386.8 267C1389 268.3 1394.8 273.3 1396.4 275.6C1398 277.9 1399.3 283.9 1400.2 287C1401.1 290.1 1403.2 299 1404 302.3C1404.8 305.6 1406.2 311.3 1406.9 315C1407.6 318.7 1409.1 329.9 1409.8 334.1C1410.5 338.3 1411.5 348.9 1412.6 351.3C1413.7 353.8 1417.6 354.5 1419.3 355.1C1421 355.7 1425.2 355.4 1427 356.1C1428.8 356.8 1433.3 360.4 1434.6 360.8C1435.9 361.2 1437.5 360.6 1438.4 359.9C1439.3 359.2 1441.1 355.5 1442.2 355.1C1443.3 354.7 1446.1 355.2 1447.6 356.1C1449.1 357 1453.7 361 1455.3 362.7C1456.9 364.4 1459.7 368.5 1461 370.4C1462.3 372.3 1465.6 379.7 1466.7 379C1467.8 378.3 1469.3 367.7 1470.6 364.7C1471.9 361.7 1476.6 356.1 1478.2 353.2C1479.8 350.3 1482.6 342.9 1483.9 339.8C1485.2 336.7 1488.8 328.6 1489.7 326.5C1490.6 324.4 1490.5 323.1 1491.6 321.4C1492.7 319.7 1497.4 313.5 1499.2 311.8C1501 310.1 1504.8 308 1506.8 307.1C1508.8 306.2 1513.7 304.9 1516.4 304.2C1519.1 303.5 1525.9 301.8 1529.8 301.3C1533.7 300.8 1547.6 300.3 1550 300.2" fill="none" stroke="#8c564b" stroke-width="2.9" stroke-linejoin="round" stroke-dasharray="10.5 4.6"/>
</g>
<rect x="1333.3" y="256" width="216.3" height="138.7" fill="none" stroke="#000" stroke-width="1.65"/>
<line x1="1335.9" y1="394.7" x2="1335.9" y2="398.4" stroke="#000" stroke-width="1.15"/>
<line x1="1346.1" y1="394.7" x2="1346.1" y2="398.4" stroke="#000" stroke-width="1.15"/>
<line x1="1353.4" y1="394.7" x2="1353.4" y2="398.4" stroke="#000" stroke-width="1.15"/>
<line x1="1359" y1="394.7" x2="1359" y2="398.4" stroke="#000" stroke-width="1.15"/>
<line x1="1363.6" y1="394.7" x2="1363.6" y2="398.4" stroke="#000" stroke-width="1.15"/>
<line x1="1367.4" y1="394.7" x2="1367.4" y2="398.4" stroke="#000" stroke-width="1.15"/>
<line x1="1370.8" y1="394.7" x2="1370.8" y2="398.4" stroke="#000" stroke-width="1.15"/>
<line x1="1373.8" y1="394.7" x2="1373.8" y2="398.4" stroke="#000" stroke-width="1.15"/>
<line x1="1376.4" y1="394.7" x2="1376.4" y2="401.7" stroke="#000" stroke-width="1.5"/>
<line x1="1393.8" y1="394.7" x2="1393.8" y2="398.4" stroke="#000" stroke-width="1.15"/>
<line x1="1404" y1="394.7" x2="1404" y2="398.4" stroke="#000" stroke-width="1.15"/>
<line x1="1411.3" y1="394.7" x2="1411.3" y2="398.4" stroke="#000" stroke-width="1.15"/>
<line x1="1416.9" y1="394.7" x2="1416.9" y2="398.4" stroke="#000" stroke-width="1.15"/>
<line x1="1421.5" y1="394.7" x2="1421.5" y2="398.4" stroke="#000" stroke-width="1.15"/>
<line x1="1425.3" y1="394.7" x2="1425.3" y2="398.4" stroke="#000" stroke-width="1.15"/>
<line x1="1428.7" y1="394.7" x2="1428.7" y2="398.4" stroke="#000" stroke-width="1.15"/>
<line x1="1431.7" y1="394.7" x2="1431.7" y2="398.4" stroke="#000" stroke-width="1.15"/>
<line x1="1434.3" y1="394.7" x2="1434.3" y2="401.7" stroke="#000" stroke-width="1.5"/>
<line x1="1451.7" y1="394.7" x2="1451.7" y2="398.4" stroke="#000" stroke-width="1.15"/>
<line x1="1461.9" y1="394.7" x2="1461.9" y2="398.4" stroke="#000" stroke-width="1.15"/>
<line x1="1469.2" y1="394.7" x2="1469.2" y2="398.4" stroke="#000" stroke-width="1.15"/>
<line x1="1474.8" y1="394.7" x2="1474.8" y2="398.4" stroke="#000" stroke-width="1.15"/>
<line x1="1479.4" y1="394.7" x2="1479.4" y2="398.4" stroke="#000" stroke-width="1.15"/>
<line x1="1483.2" y1="394.7" x2="1483.2" y2="398.4" stroke="#000" stroke-width="1.15"/>
<line x1="1486.6" y1="394.7" x2="1486.6" y2="398.4" stroke="#000" stroke-width="1.15"/>
<line x1="1489.6" y1="394.7" x2="1489.6" y2="398.4" stroke="#000" stroke-width="1.15"/>
<line x1="1492.2" y1="394.7" x2="1492.2" y2="401.7" stroke="#000" stroke-width="1.5"/>
<line x1="1509.6" y1="394.7" x2="1509.6" y2="398.4" stroke="#000" stroke-width="1.15"/>
<line x1="1519.8" y1="394.7" x2="1519.8" y2="398.4" stroke="#000" stroke-width="1.15"/>
<line x1="1527.1" y1="394.7" x2="1527.1" y2="398.4" stroke="#000" stroke-width="1.15"/>
<line x1="1532.7" y1="394.7" x2="1532.7" y2="398.4" stroke="#000" stroke-width="1.15"/>
<line x1="1537.3" y1="394.7" x2="1537.3" y2="398.4" stroke="#000" stroke-width="1.15"/>
<line x1="1541.1" y1="394.7" x2="1541.1" y2="398.4" stroke="#000" stroke-width="1.15"/>
<line x1="1544.5" y1="394.7" x2="1544.5" y2="398.4" stroke="#000" stroke-width="1.15"/>
<line x1="1547.5" y1="394.7" x2="1547.5" y2="398.4" stroke="#000" stroke-width="1.15"/>
<line x1="1549.6" y1="394.4" x2="1553.3" y2="394.4" stroke="#000" stroke-width="1.15"/>
<line x1="1549.6" y1="390.4" x2="1553.3" y2="390.4" stroke="#000" stroke-width="1.15"/>
<line x1="1549.6" y1="387.1" x2="1553.3" y2="387.1" stroke="#000" stroke-width="1.15"/>
<line x1="1549.6" y1="384.2" x2="1553.3" y2="384.2" stroke="#000" stroke-width="1.15"/>
<line x1="1549.6" y1="381.7" x2="1553.3" y2="381.7" stroke="#000" stroke-width="1.15"/>
<line x1="1549.6" y1="379.4" x2="1556.6" y2="379.4" stroke="#000" stroke-width="1.5"/>
<line x1="1549.6" y1="364.4" x2="1553.3" y2="364.4" stroke="#000" stroke-width="1.15"/>
<line x1="1549.6" y1="355.7" x2="1553.3" y2="355.7" stroke="#000" stroke-width="1.15"/>
<line x1="1549.6" y1="349.5" x2="1553.3" y2="349.5" stroke="#000" stroke-width="1.15"/>
<line x1="1549.6" y1="344.7" x2="1553.3" y2="344.7" stroke="#000" stroke-width="1.15"/>
<line x1="1549.6" y1="340.7" x2="1553.3" y2="340.7" stroke="#000" stroke-width="1.15"/>
<line x1="1549.6" y1="337.4" x2="1553.3" y2="337.4" stroke="#000" stroke-width="1.15"/>
<line x1="1549.6" y1="334.5" x2="1553.3" y2="334.5" stroke="#000" stroke-width="1.15"/>
<line x1="1549.6" y1="332" x2="1553.3" y2="332" stroke="#000" stroke-width="1.15"/>
<line x1="1549.6" y1="329.7" x2="1556.6" y2="329.7" stroke="#000" stroke-width="1.5"/>
<line x1="1549.6" y1="314.7" x2="1553.3" y2="314.7" stroke="#000" stroke-width="1.15"/>
<line x1="1549.6" y1="306" x2="1553.3" y2="306" stroke="#000" stroke-width="1.15"/>
<line x1="1549.6" y1="299.8" x2="1553.3" y2="299.8" stroke="#000" stroke-width="1.15"/>
<line x1="1549.6" y1="295" x2="1553.3" y2="295" stroke="#000" stroke-width="1.15"/>
<line x1="1549.6" y1="291" x2="1553.3" y2="291" stroke="#000" stroke-width="1.15"/>
<line x1="1549.6" y1="287.7" x2="1553.3" y2="287.7" stroke="#000" stroke-width="1.15"/>
<line x1="1549.6" y1="284.8" x2="1553.3" y2="284.8" stroke="#000" stroke-width="1.15"/>
<line x1="1549.6" y1="282.3" x2="1553.3" y2="282.3" stroke="#000" stroke-width="1.15"/>
<line x1="1549.6" y1="280" x2="1556.6" y2="280" stroke="#000" stroke-width="1.5"/>
<line x1="1549.6" y1="265" x2="1553.3" y2="265" stroke="#000" stroke-width="1.15"/>
<line x1="1549.6" y1="256.3" x2="1553.3" y2="256.3" stroke="#000" stroke-width="1.15"/>
<line x1="1326.3" y1="285.7" x2="1333.3" y2="285.7" stroke="#000" stroke-width="1.5"/>
<text x="1320" y="292.2" font-family="'Liberation Serif','DejaVu Serif',serif" font-size="20" text-anchor="end" textLength="28" lengthAdjust="spacingAndGlyphs">0.8</text>
<line x1="1326.3" y1="346" x2="1333.3" y2="346" stroke="#000" stroke-width="1.5"/>
<text x="1320" y="352.5" font-family="'Liberation Serif','DejaVu Serif',serif" font-size="20" text-anchor="end" textLength="28" lengthAdjust="spacingAndGlyphs">0.6</text>
<text x="1356.1" y="424" font-family="'Liberation Serif','DejaVu Serif',serif" font-size="21" textLength="21" lengthAdjust="spacingAndGlyphs">10</text><text x="1377.4" y="416.4" font-family="'Liberation Serif','DejaVu Serif',serif" font-size="15.1" textLength="19.7" lengthAdjust="spacingAndGlyphs">−1</text>
<text x="1478.6" y="424" font-family="'Liberation Serif','DejaVu Serif',serif" font-size="21" textLength="21" lengthAdjust="spacingAndGlyphs">10</text><text x="1499.9" y="416.4" font-family="'Liberation Serif','DejaVu Serif',serif" font-size="15.1" textLength="7.9" lengthAdjust="spacingAndGlyphs">1</text>
<text x="1563.5" y="287.2" font-family="'Liberation Serif','DejaVu Serif',serif" font-size="21" textLength="21" lengthAdjust="spacingAndGlyphs">10</text><text x="1584.8" y="279.6" font-family="'Liberation Serif','DejaVu Serif',serif" font-size="15.1" textLength="19.7" lengthAdjust="spacingAndGlyphs">−2</text>
<text x="1563.5" y="336.9" font-family="'Liberation Serif','DejaVu Serif',serif" font-size="21" textLength="21" lengthAdjust="spacingAndGlyphs">10</text><text x="1584.8" y="329.3" font-family="'Liberation Serif','DejaVu Serif',serif" font-size="15.1" textLength="19.7" lengthAdjust="spacingAndGlyphs">−3</text>
<text x="1563.5" y="386.6" font-family="'Liberation Serif','DejaVu Serif',serif" font-size="21" textLength="21" lengthAdjust="spacingAndGlyphs">10</text><text x="1584.8" y="379" font-family="'Liberation Serif','DejaVu Serif',serif" font-size="15.1" textLength="19.7" lengthAdjust="spacingAndGlyphs">−4</text>
<rect x="1553.8" y="387.5" width="38" height="20.5" fill="#fff" stroke="none" stroke-width="1"/>
<text x="1551" y="404.5" font-family="'Liberation Serif','DejaVu Serif',serif" font-size="22.3" font-style="italic" textLength="39" lengthAdjust="spacingAndGlyphs">J/U</text>
<text x="1301.4" y="249" font-family="'Noto Sans CJK SC','DejaVu Sans',sans-serif" font-size="22.7" textLength="13.6" lengthAdjust="spacingAndGlyphs" font-weight="400">〈</text>
<text x="1315.8" y="245.7" font-family="'Liberation Serif','DejaVu Serif',serif" font-size="21" font-style="italic" textLength="17.5" lengthAdjust="spacingAndGlyphs">D</text><text x="1334.4" y="236.5" font-family="'Liberation Serif','DejaVu Serif',serif" font-size="14.5" font-style="italic" textLength="8.2" lengthAdjust="spacingAndGlyphs">λ</text><text x="1343.1" y="236.5" font-family="'Liberation Serif','DejaVu Serif',serif" font-size="14.5">,</text><text x="1346.8" y="236.5" font-family="'Liberation Serif','DejaVu Serif',serif" font-size="14.5" font-style="italic" textLength="10" lengthAdjust="spacingAndGlyphs">α</text><text x="1333.4" y="251.3" font-family="'Liberation Serif','DejaVu Serif',serif" font-size="14">1</text>
<text x="1359.4" y="249" font-family="'Noto Sans CJK SC','DejaVu Sans',sans-serif" font-size="22.7" textLength="13.6" lengthAdjust="spacingAndGlyphs" font-weight="400">〉</text>
<text x="1502.8" y="251.1" font-family="'Liberation Serif','DejaVu Serif',serif" font-size="21.5" textLength="41" lengthAdjust="spacingAndGlyphs">Var(</text>
<text x="1546" y="251.1" font-family="'Liberation Serif','DejaVu Serif',serif" font-size="21" font-style="italic" textLength="17.5" lengthAdjust="spacingAndGlyphs">D</text><text x="1564.6" y="241.9" font-family="'Liberation Serif','DejaVu Serif',serif" font-size="14.5" font-style="italic" textLength="8.2" lengthAdjust="spacingAndGlyphs">λ</text><text x="1573.3" y="241.9" font-family="'Liberation Serif','DejaVu Serif',serif" font-size="14.5">,</text><text x="1577" y="241.9" font-family="'Liberation Serif','DejaVu Serif',serif" font-size="14.5" font-style="italic" textLength="10" lengthAdjust="spacingAndGlyphs">α</text><text x="1563.6" y="256.7" font-family="'Liberation Serif','DejaVu Serif',serif" font-size="14">1</text>
<text x="1589" y="251.1" font-family="'Liberation Serif','DejaVu Serif',serif" font-size="21.5">)</text>
</svg>
</body></html>
